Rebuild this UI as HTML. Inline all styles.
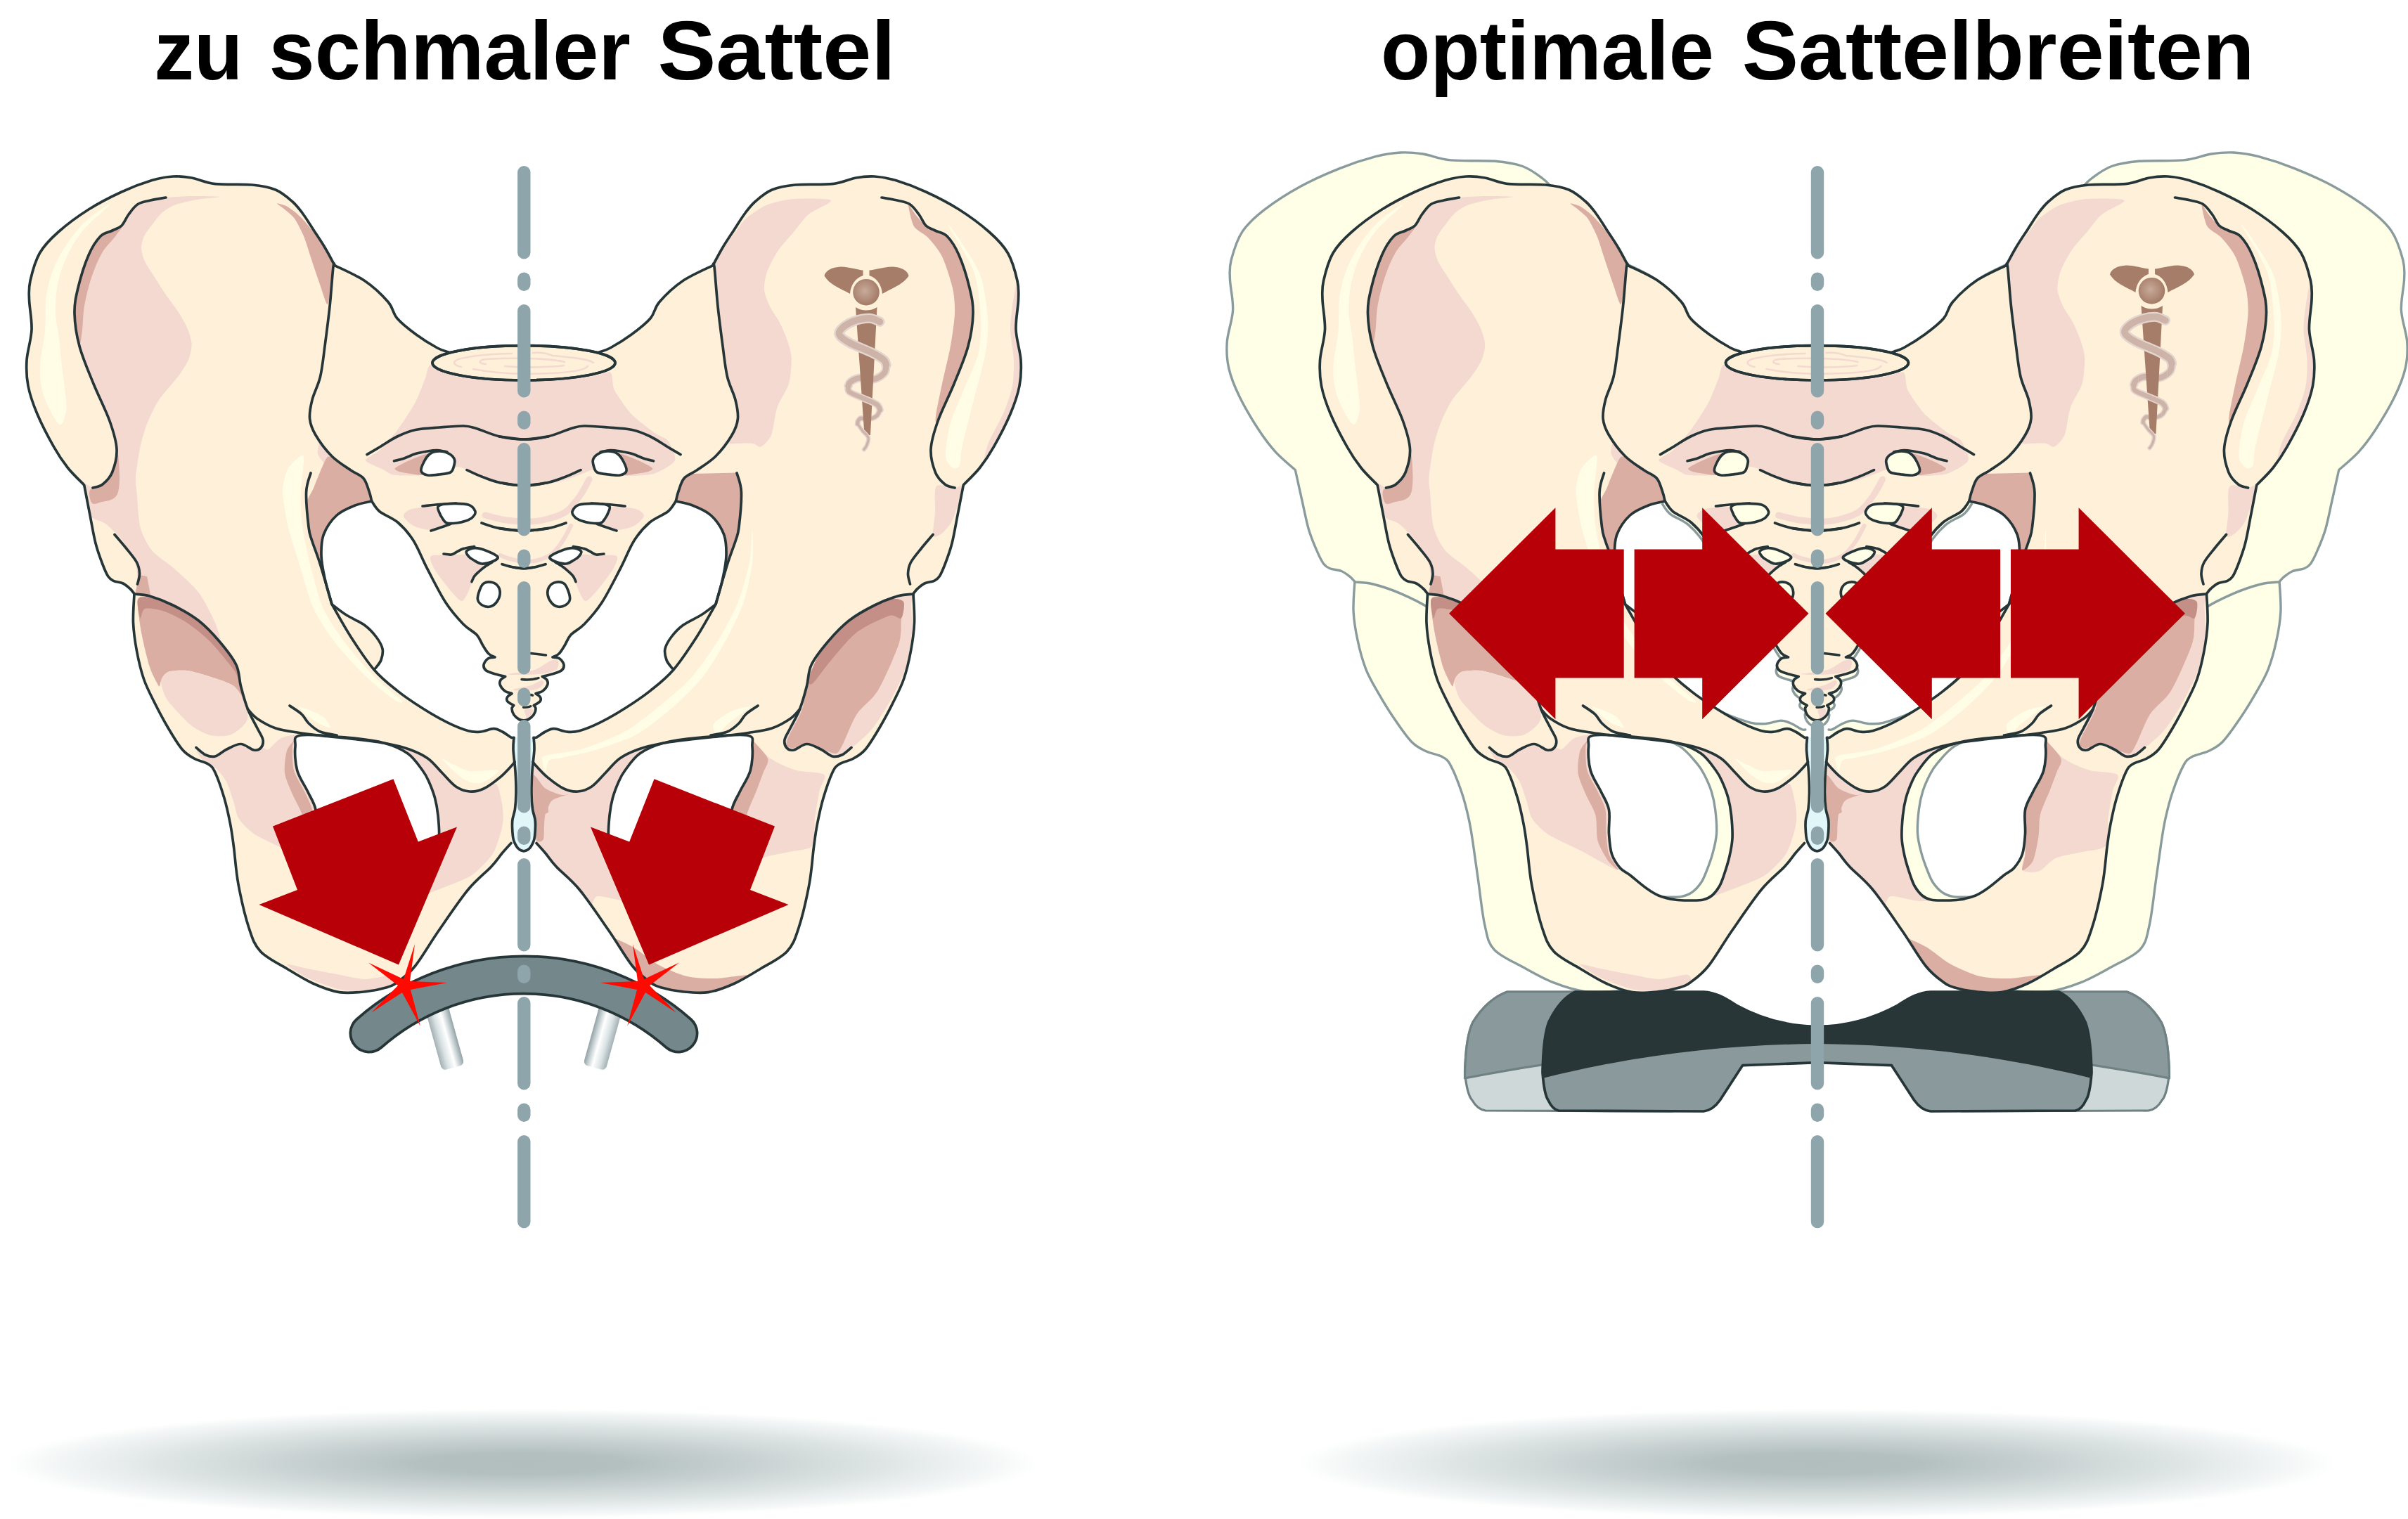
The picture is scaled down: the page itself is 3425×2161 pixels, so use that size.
<!DOCTYPE html>
<html lang="de"><head><meta charset="utf-8"><title>Sattelbreite</title>
<style>html,body{margin:0;padding:0;background:#fff}svg{display:block}text{font-family:"Liberation Sans",sans-serif;font-weight:bold;fill:#000}</style></head><body>
<svg width="3425" height="2161" viewBox="0 0 3425 2161">
<defs>
<radialGradient id="shadow" cx="0.5" cy="0.5" r="0.5"><stop offset="0" stop-color="#b2bebe"/><stop offset="0.2" stop-color="#b4c0c0"/><stop offset="0.45" stop-color="#c9d2d2"/><stop offset="0.7" stop-color="#dfe5e5"/><stop offset="0.9" stop-color="#f3f6f6"/><stop offset="1" stop-color="#ffffff"/></radialGradient>
<linearGradient id="rail" x1="0" y1="0" x2="1" y2="0"><stop offset="0" stop-color="#a3b0b3"/><stop offset="0.3" stop-color="#dbe3e5"/><stop offset="0.6" stop-color="#ffffff"/><stop offset="0.8" stop-color="#c9d3d5"/><stop offset="1" stop-color="#92a2a6"/></linearGradient>
<linearGradient id="railL" gradientUnits="userSpaceOnUse" x1="604" y1="1478" x2="636" y2="1469"><stop offset="0" stop-color="#98a7ab"/><stop offset="0.3" stop-color="#d5dee0"/><stop offset="0.6" stop-color="#ffffff"/><stop offset="0.8" stop-color="#cfd8da"/><stop offset="1" stop-color="#8c9ca0"/></linearGradient>
<linearGradient id="railR" gradientUnits="userSpaceOnUse" x1="842" y1="1469" x2="874" y2="1478"><stop offset="0" stop-color="#98a7ab"/><stop offset="0.3" stop-color="#d5dee0"/><stop offset="0.5" stop-color="#ffffff"/><stop offset="0.8" stop-color="#cfd8da"/><stop offset="1" stop-color="#8c9ca0"/></linearGradient>
<radialGradient id="ball" cx="0.45" cy="0.45" r="0.6"><stop offset="0" stop-color="#c9aa9a"/><stop offset="1" stop-color="#a07762"/></radialGradient>
<linearGradient id="snake" x1="0" y1="0" x2="1" y2="0"><stop offset="0" stop-color="#e3d3cc"/><stop offset="0.5" stop-color="#c9ab9e"/><stop offset="1" stop-color="#dccac2"/></linearGradient>
<path id="hipFill" fill-rule="evenodd" clip-rule="evenodd" d="M476,377.6C473.7,373.3 467.1,360.5 462,352C456.9,343.5 450.8,334.6 445.5,326.4C440.2,318.2 435,309.6 430,303C425,296.4 421.9,292 415.6,286.5C409.3,281 401.4,273.9 392,270C382.6,266.1 373.3,264.4 359,263C344.7,261.6 320.4,263.3 306,261.6C291.6,259.9 282.6,254.8 272.6,253C262.6,251.2 255.4,250.4 246,251C236.6,251.6 228.2,252.9 216,256.6C203.8,260.3 188,266.1 173,273C158,279.9 141,288.5 126,298C111,307.5 94.6,319.7 83,330C71.4,340.3 63.2,348.4 56.5,360C49.8,371.6 45.5,388.5 43,399.5C40.5,410.5 41.2,414.4 41.5,426C41.8,437.6 45.6,454.6 45,469C44.4,483.4 38.8,499.3 38,512.6C37.2,525.9 37.5,536.3 40,549C42.5,561.7 46.9,574.6 53,589C59.1,603.4 69.3,622.9 76.5,635.6C83.7,648.4 89.2,656.4 96.4,665.5C103.6,674.6 115.8,685.9 119.7,690C121.1,697.2 125.3,719.2 128,733C130.7,746.8 133,761.3 136,773C139,784.7 143,795.2 146,803C149,810.8 151.2,816.1 153.8,820C156.4,823.9 157.8,824.6 161.3,826.3C164.8,828 171.1,828.1 175,830C178.9,831.9 182.3,835.1 185,837.5C187.7,839.9 190,843.4 191,844.6C190.8,851.5 188.9,872.4 189.5,886C190.1,899.6 192,912.7 194.5,926C197,939.3 200.3,953.8 204.5,966C208.7,978.2 213.7,987.3 219.5,999C225.3,1010.7 232.8,1024.8 239.4,1036C246,1047.2 252.9,1058.8 259,1066C265.1,1073.2 269.8,1075.5 276,1079C282.2,1082.5 291,1083.7 296,1087C301,1090.3 302.2,1090.9 306,1099C309.8,1107.1 315.4,1123.4 319,1135.6C322.6,1147.8 325.2,1160.4 327.5,1172C329.8,1183.6 330.6,1190.7 332.5,1205C334.4,1219.3 335.4,1238.8 339,1258C342.6,1277.2 348.8,1304.1 354,1320C359.2,1335.9 361.5,1343.7 370.5,1353.4C379.5,1363.1 395.6,1370.4 408,1378C420.4,1385.6 432.6,1393.4 445,1399C457.4,1404.6 470.1,1409.6 482.6,1411.6C495.1,1413.5 508.9,1411.8 520,1410.7C531.1,1409.6 541.4,1407.3 549,1405C556.6,1402.7 558.8,1402.2 565.7,1397C572.7,1391.8 581,1386.2 590.7,1374C600.4,1361.8 611.5,1342 624,1324C636.5,1306 653,1281.2 665.5,1266C678,1250.8 690.6,1241.7 698.7,1233C706.8,1224.3 709.3,1219.6 714,1214C718.7,1208.4 724.8,1201.9 727,1199.5C727.4,1197.8 729.1,1194.7 729.4,1189.4C729.7,1184.2 728.2,1174.4 728.7,1168C729.2,1161.6 731.6,1157.7 732.5,1151C733.4,1144.3 733.9,1136.8 734,1127.8C734.1,1118.8 733.7,1107.3 733,1097C732.3,1086.7 730.3,1074 730,1066C729.7,1058 730.8,1052.1 731,1049.3C730.2,1049.2 729.2,1050.2 726.5,1048.8C723.8,1047.4 718.6,1043 714.5,1041C710.4,1039 707.1,1036.7 702,1036.7C696.9,1036.7 690,1040.5 684,1041C678,1041.5 674,1042 666,1039.8C658,1037.6 647,1033.2 636,1027.7C625,1022.2 611.8,1014.5 600,1007C588.2,999.5 576.3,991.6 565,982.6C553.7,973.6 537.5,957.7 532,952.7C535.1,949 540.3,943.7 542,939C543.7,934.3 545.2,928.5 544,923C542.8,917.5 539.2,911.6 535,906C530.8,900.4 525.9,894.8 518.7,889.5C511.5,884.2 499.8,879.5 492,874.5C484.2,869.5 475.3,862.1 472,859.6C470.3,853.5 464.5,834.6 462,823C459.5,811.4 457.2,800.5 457,790C456.8,779.5 456.8,769.5 460.5,760C464.2,750.5 471.6,739.8 479,733C486.4,726.2 496.7,722.3 505,719C513.3,715.7 524.8,714 528.7,713C528.1,710.7 527,704.4 525,699C523,693.6 521.3,685.5 517,680.5C512.7,675.5 506.5,674.2 499,669C491.5,663.8 480.3,657.3 472,649C463.7,640.7 454.2,627.9 449,619C443.8,610.1 441.4,604 440.6,595.7C439.8,587.4 441.5,579 444,569C446.5,559 452.5,548.7 455.5,536C458.5,523.3 459.8,509.3 462,492.6C464.2,475.9 467,454.8 469,436C471,417.2 472.8,389.3 474,379.6C475.2,369.9 475.7,377.9 476,377.6ZM428,1046C415.1,1048.1 420.9,1053.7 420,1062C419.1,1070.3 419.8,1085.3 422.7,1096C425.6,1106.7 433.2,1116.7 437.6,1126C442,1135.3 447.1,1142 449,1152C450.9,1162 448.3,1175.5 449,1186C449.7,1196.5 450.3,1206.8 453,1215C455.7,1223.2 460.7,1230 465,1235C469.3,1240 473.2,1240.5 479,1245C484.8,1249.5 493.2,1257.2 500,1262C506.8,1266.8 512.3,1271 519.5,1274C526.7,1277 535.2,1278.8 543,1280C550.8,1281.2 559.3,1281 566,1281C572.7,1281 578.1,1281.2 583,1280C587.9,1278.8 591.7,1277.2 595.5,1274C599.3,1270.8 603.2,1265.8 606,1261C608.8,1256.2 610.2,1251.8 612.5,1245C614.8,1238.2 618,1228.7 620,1220C622,1211.3 624,1203 624.5,1193C625,1183 624,1169.7 623,1160C622,1150.3 620.7,1143 618.5,1135C616.3,1127 612.9,1118.5 610,1112C607.1,1105.5 606,1102.7 601,1096C596,1089.3 589.2,1078.5 580,1072C570.8,1065.5 559.8,1060.7 546,1057C532.2,1053.3 517.2,1051.4 497.5,1049.6C477.8,1047.8 440.9,1043.9 428,1046Z"/>
<path id="sacFill" fill-rule="evenodd" clip-rule="evenodd" d="M476,377.6C483.1,381.2 506,390.9 518.7,399.5C531.4,408.1 544.3,420.6 552,429.5C559.7,438.4 558.3,445.2 565,453C571.7,460.8 582.5,469 592,476C601.5,483 614.3,490.8 622,495C629.7,499.2 632.5,500.2 638,501C643.5,501.8 652.2,500.2 655,500L746,500L746,1025L745.5,1025C744.3,1024.8 740.9,1024.8 738.5,1023.5C736.1,1022.2 732.8,1019.6 731,1017C729.2,1014.4 728,1010.2 728,1008C728,1005.8 730.2,1004.3 730.7,1003.6C729.2,1002.6 723.2,999.6 721.7,997.6C720.2,995.6 720.7,993.4 721.7,991.6C722.8,989.8 727,987.5 728,986.7C726.3,986.1 720.8,985 718,983C715.2,981 712.4,977.3 711.4,974.7C710.4,972.1 710.8,969.5 712,967.5C713.2,965.5 717.6,963.4 718.7,962.6C716.4,962 709.3,960.4 704.8,959C700.3,957.6 694.4,956.2 691.6,954C688.8,951.8 687.6,948.6 688,945.8C688.4,943 691.3,938.8 694,937C696.7,935.2 702.3,935.3 704,935C702.5,934.2 697.9,932.8 695,930C692.1,927.2 689.5,922.5 686.7,918C683.9,913.5 682.6,908 678,903C673.4,898 666.4,895.7 659,888C651.6,880.3 642.3,870.1 633.8,857C625.3,843.9 615.7,824.3 608,809.6C600.3,794.9 594.8,779.7 587.7,768.6C580.6,757.5 573.6,749.8 565.6,743C557.6,736.2 546.1,732.7 540,727.7C533.9,722.7 530.6,715.5 528.7,713C528.1,710.7 527,704.4 525,699C523,693.6 521.3,685.5 517,680.5C512.7,675.5 506.5,674.2 499,669C491.5,663.8 480.3,657.3 472,649C463.7,640.7 454.2,627.9 449,619C443.8,610.1 441.4,604 440.6,595.7C439.8,587.4 441.5,579 444,569C446.5,559 452.5,548.7 455.5,536C458.5,523.3 459.8,509.3 462,492.6C464.2,475.9 467,454.8 469,436C471,417.2 472.8,389.3 474,379.6C475.2,369.9 475.7,377.9 476,377.6ZM599,670C598.2,666.8 600.9,661.1 603,657C605.1,652.9 607.9,648.1 611.6,645.6C615.3,643.1 620.4,642 625,642C629.6,642 635.4,643.6 639,645.6C642.6,647.6 645.5,650.8 646.5,654C647.5,657.2 646,662 645,665C644,668 643.9,670.3 640.6,672C637.3,673.7 630.4,674.3 625,675C619.6,675.7 612.3,676.8 608,676C603.7,675.2 599.8,673.2 599,670ZM623.5,720C626,717.9 632.9,716.8 640,716.5C647.1,716.2 660,716.1 666,718C672,719.9 675,724.7 676,727.7C677,730.7 674.2,733.8 672,736C669.8,738.2 666.4,739.7 662.7,741C659,742.3 654.5,743.5 650,744C645.5,744.5 639,745.2 635.5,744C632,742.8 630.8,739.4 629,737C627.2,734.6 625.9,732.2 625,729.4C624.1,726.6 621,722.1 623.5,720ZM663.6,784C665.3,782.1 671.1,779.7 676,779.7C680.9,779.7 687.7,781.9 693,784C698.3,786.1 706.8,790 708,792.5C709.2,795 703.8,797.4 700,799C696.2,800.6 689.3,802.3 685,802C680.7,801.7 677.2,798.9 674,797C670.8,795.1 667.7,793 666,790.8C664.3,788.6 661.9,785.9 663.6,784ZM688,830C691,828.1 696.5,827.7 700,828.5C703.5,829.3 707.2,832.1 709,835C710.8,837.9 711.5,842.3 711,846C710.5,849.7 708.3,854.2 706,857C703.7,859.8 700.3,862.3 697,863C693.7,863.7 688.9,862.7 686,861C683.1,859.3 680.2,856.5 679.5,853C678.8,849.5 680.6,843.8 682,840C683.4,836.2 685,831.9 688,830Z"/>
<path id="sacSolid" d="M476,377.6C483.1,381.2 506,390.9 518.7,399.5C531.4,408.1 544.3,420.6 552,429.5C559.7,438.4 558.3,445.2 565,453C571.7,460.8 582.5,469 592,476C601.5,483 614.3,490.8 622,495C629.7,499.2 632.5,500.2 638,501C643.5,501.8 652.2,500.2 655,500L746,500L746,1025L745.5,1025C744.3,1024.8 740.9,1024.8 738.5,1023.5C736.1,1022.2 732.8,1019.6 731,1017C729.2,1014.4 728,1010.2 728,1008C728,1005.8 730.2,1004.3 730.7,1003.6C729.2,1002.6 723.2,999.6 721.7,997.6C720.2,995.6 720.7,993.4 721.7,991.6C722.8,989.8 727,987.5 728,986.7C726.3,986.1 720.8,985 718,983C715.2,981 712.4,977.3 711.4,974.7C710.4,972.1 710.8,969.5 712,967.5C713.2,965.5 717.6,963.4 718.7,962.6C716.4,962 709.3,960.4 704.8,959C700.3,957.6 694.4,956.2 691.6,954C688.8,951.8 687.6,948.6 688,945.8C688.4,943 691.3,938.8 694,937C696.7,935.2 702.3,935.3 704,935C702.5,934.2 697.9,932.8 695,930C692.1,927.2 689.5,922.5 686.7,918C683.9,913.5 682.6,908 678,903C673.4,898 666.4,895.7 659,888C651.6,880.3 642.3,870.1 633.8,857C625.3,843.9 615.7,824.3 608,809.6C600.3,794.9 594.8,779.7 587.7,768.6C580.6,757.5 573.6,749.8 565.6,743C557.6,736.2 546.1,732.7 540,727.7C533.9,722.7 530.6,715.5 528.7,713C528.1,710.7 527,704.4 525,699C523,693.6 521.3,685.5 517,680.5C512.7,675.5 506.5,674.2 499,669C491.5,663.8 480.3,657.3 472,649C463.7,640.7 454.2,627.9 449,619C443.8,610.1 441.4,604 440.6,595.7C439.8,587.4 441.5,579 444,569C446.5,559 452.5,548.7 455.5,536C458.5,523.3 459.8,509.3 462,492.6C464.2,475.9 467,454.8 469,436C471,417.2 472.8,389.3 474,379.6C475.2,369.9 475.7,377.9 476,377.6Z"/>
<g id="hipLines" fill="none" stroke-linecap="round" stroke-linejoin="round">
<path d="M476,377.6C473.7,373.3 467.1,360.5 462,352C456.9,343.5 450.8,334.6 445.5,326.4C440.2,318.2 435,309.6 430,303C425,296.4 421.9,292 415.6,286.5C409.3,281 401.4,273.9 392,270C382.6,266.1 373.3,264.4 359,263C344.7,261.6 320.4,263.3 306,261.6C291.6,259.9 282.6,254.8 272.6,253C262.6,251.2 255.4,250.4 246,251C236.6,251.6 228.2,252.9 216,256.6C203.8,260.3 188,266.1 173,273C158,279.9 141,288.5 126,298C111,307.5 94.6,319.7 83,330C71.4,340.3 63.2,348.4 56.5,360C49.8,371.6 45.5,388.5 43,399.5C40.5,410.5 41.2,414.4 41.5,426C41.8,437.6 45.6,454.6 45,469C44.4,483.4 38.8,499.3 38,512.6C37.2,525.9 37.5,536.3 40,549C42.5,561.7 46.9,574.6 53,589C59.1,603.4 69.3,622.9 76.5,635.6C83.7,648.4 89.2,656.4 96.4,665.5C103.6,674.6 115.8,685.9 119.7,690C121.1,697.2 125.3,719.2 128,733C130.7,746.8 133,761.3 136,773C139,784.7 143,795.2 146,803C149,810.8 151.2,816.1 153.8,820C156.4,823.9 157.8,824.6 161.3,826.3C164.8,828 171.1,828.1 175,830C178.9,831.9 182.3,835.1 185,837.5C187.7,839.9 190,843.4 191,844.6C190.8,851.5 188.9,872.4 189.5,886C190.1,899.6 192,912.7 194.5,926C197,939.3 200.3,953.8 204.5,966C208.7,978.2 213.7,987.3 219.5,999C225.3,1010.7 232.8,1024.8 239.4,1036C246,1047.2 252.9,1058.8 259,1066C265.1,1073.2 269.8,1075.5 276,1079C282.2,1082.5 291,1083.7 296,1087C301,1090.3 302.2,1090.9 306,1099C309.8,1107.1 315.4,1123.4 319,1135.6C322.6,1147.8 325.2,1160.4 327.5,1172C329.8,1183.6 330.6,1190.7 332.5,1205C334.4,1219.3 335.4,1238.8 339,1258C342.6,1277.2 348.8,1304.1 354,1320C359.2,1335.9 361.5,1343.7 370.5,1353.4C379.5,1363.1 395.6,1370.4 408,1378C420.4,1385.6 432.6,1393.4 445,1399C457.4,1404.6 470.1,1409.6 482.6,1411.6C495.1,1413.5 508.9,1411.8 520,1410.7C531.1,1409.6 541.4,1407.3 549,1405C556.6,1402.7 558.8,1402.2 565.7,1397C572.7,1391.8 581,1386.2 590.7,1374C600.4,1361.8 611.5,1342 624,1324C636.5,1306 653,1281.2 665.5,1266C678,1250.8 690.6,1241.7 698.7,1233C706.8,1224.3 709.3,1219.6 714,1214C718.7,1208.4 724.8,1201.9 727,1199.5"/>
<path d="M731,1049.3C730.2,1049.2 729.2,1050.2 726.5,1048.8C723.8,1047.4 718.6,1043 714.5,1041C710.4,1039 707.1,1036.7 702,1036.7C696.9,1036.7 690,1040.5 684,1041C678,1041.5 674,1042 666,1039.8C658,1037.6 647,1033.2 636,1027.7C625,1022.2 611.8,1014.5 600,1007C588.2,999.5 576.3,991.6 565,982.6C553.7,973.6 543,965.5 532,952.7C521,939.9 509,921.5 499,906C489,890.5 476.5,867.3 472,859.6C469.2,850.2 460.2,817.9 455.5,803C450.8,788.1 446.8,778.8 444,770C441.2,761.2 440.4,761.7 439,750C437.6,738.3 435.1,712.8 435.6,700C436.1,687.2 440.9,677.5 442,673"/>
<path d="M472,859.6C475.3,862.1 484.2,869.5 492,874.5C499.8,879.5 511.5,884.2 518.7,889.5C525.9,894.8 530.8,900.4 535,906C539.2,911.6 542.8,917.5 544,923C545.2,928.5 543.7,934.3 542,939C540.3,943.7 535.1,949 533.7,951"/>
<path d="M472,859.6C470.3,853.5 464.5,834.6 462,823C459.5,811.4 457.2,800.5 457,790C456.8,779.5 456.8,769.5 460.5,760C464.2,750.5 471.6,739.8 479,733C486.4,726.2 496.7,722.3 505,719C513.3,715.7 524.8,714 528.7,713"/>
<path d="M236,281C232.3,281.7 220.7,283.4 214,285C207.3,286.6 201.2,287.2 196,290.5C190.8,293.8 186.8,299.9 183,305C179.2,310.1 176.8,317.2 173,321C169.2,324.8 165,325.5 160,328C155,330.5 148.7,330.2 143,336C137.3,341.8 131.3,350.8 126,363C120.7,375.2 114.3,395.7 111,409.5C107.7,423.3 105.7,432.1 106,446C106.3,459.9 108.5,475.9 113,492.6C117.5,509.3 125.8,528.3 133,546C140.2,563.7 150.5,583.5 156,599C161.5,614.5 165.4,626.8 166,639C166.6,651.2 162.9,663.7 159.6,672C156.3,680.3 150.6,685.3 146,689C141.4,692.7 134.3,693.2 132,694"/>
<path d="M163,760.5C165.8,763.8 174.2,773.4 179.5,780C184.8,786.6 191.3,794 194.5,800C197.7,806 198.3,810.8 198.5,816C198.7,821.2 196,828.5 195.5,831"/>
<path d="M191,845C194.7,845.5 203.8,845.3 213,848C222.2,850.7 234.4,855.2 246,861C257.6,866.8 271.5,874.3 282.6,883C293.7,891.7 303.6,902.5 312.5,913C321.4,923.5 331,935.5 336,946C341,956.5 339.8,965.5 342.5,976C345.2,986.5 348.6,999 352.5,1009C356.4,1019 362.4,1028.8 366,1036C369.6,1043.2 373.2,1047.8 374,1052.5C374.8,1057.2 373.2,1061.6 371,1064C368.8,1066.4 365.8,1067.9 361,1067C356.2,1066.1 348.9,1058.7 342.5,1058.5C336.1,1058.3 328.6,1063.1 322.5,1066C316.4,1068.9 311,1074.7 306,1076C301,1077.3 297.1,1076.1 292.6,1074C288.1,1071.9 281.3,1065.2 279,1063.5"/>
<path d="M352.5,1009C354.8,1011.2 359.4,1018 366,1022.5C372.6,1027 382.1,1032.7 392,1036C401.9,1039.3 413.4,1040.6 425.6,1042.5C437.9,1044.4 453.3,1046.1 465.5,1047.5C477.7,1048.9 485.1,1049.3 499,1051C512.9,1052.7 534.8,1055 548.6,1057.5C562.4,1060 572,1062.4 582,1066C592,1069.6 600.8,1073.5 608.5,1079C616.2,1084.5 621.8,1092.3 628.4,1099C635,1105.7 641.8,1114.5 648.4,1119C655,1123.5 661.4,1125.5 668,1126C674.6,1126.5 680.8,1125.4 688,1122C695.2,1118.6 704.8,1111.1 711.5,1105.6C718.2,1100.1 724.6,1092.6 728,1089C731.4,1085.4 731.3,1084.8 732,1084"/>
<path d="M412,1004C414.8,1006 424.5,1011.8 429,1016C433.5,1020.2 434.6,1024.8 439,1029C443.4,1033.2 448.8,1038.2 455.5,1041C462.2,1043.8 475.1,1045.2 479,1046"/>
<path d="M428,1046C415.1,1048.1 420.9,1053.7 420,1062C419.1,1070.3 419.8,1085.3 422.7,1096C425.6,1106.7 433.2,1116.7 437.6,1126C442,1135.3 447.1,1142 449,1152C450.9,1162 448.3,1175.5 449,1186C449.7,1196.5 450.3,1206.8 453,1215C455.7,1223.2 460.7,1230 465,1235C469.3,1240 473.2,1240.5 479,1245C484.8,1249.5 493.2,1257.2 500,1262C506.8,1266.8 512.3,1271 519.5,1274C526.7,1277 535.2,1278.8 543,1280C550.8,1281.2 559.3,1281 566,1281C572.7,1281 578.1,1281.2 583,1280C587.9,1278.8 591.7,1277.2 595.5,1274C599.3,1270.8 603.2,1265.8 606,1261C608.8,1256.2 610.2,1251.8 612.5,1245C614.8,1238.2 618,1228.7 620,1220C622,1211.3 624,1203 624.5,1193C625,1183 624,1169.7 623,1160C622,1150.3 620.7,1143 618.5,1135C616.3,1127 612.9,1118.5 610,1112C607.1,1105.5 606,1102.7 601,1096C596,1089.3 589.2,1078.5 580,1072C570.8,1065.5 559.8,1060.7 546,1057C532.2,1053.3 517.2,1051.4 497.5,1049.6C477.8,1047.8 440.9,1043.9 428,1046Z"/>
</g>
<g id="sacLines" fill="none" stroke-linecap="round" stroke-linejoin="round">
<path d="M476,377.6C483.1,381.2 506,390.9 518.7,399.5C531.4,408.1 544.3,420.6 552,429.5C559.7,438.4 558.3,445.2 565,453C571.7,460.8 582.5,469 592,476C601.5,483 614.3,490.8 622,495C629.7,499.2 635.3,500 638,501"/>
<path d="M476,377.6C475.7,377.9 475.2,369.9 474,379.6C472.8,389.3 471,417.2 469,436C467,454.8 464.2,475.9 462,492.6C459.8,509.3 458.5,523.3 455.5,536C452.5,548.7 446.5,559 444,569C441.5,579 439.8,587.4 440.6,595.7C441.4,604 443.8,610.1 449,619C454.2,627.9 463.7,640.7 472,649C480.3,657.3 491.5,663.8 499,669C506.5,674.2 512.7,675.5 517,680.5C521.3,685.5 523,693.6 525,699C527,704.4 528.1,710.7 528.7,713C530.6,715.5 533.9,722.7 540,727.7C546.1,732.7 557.6,736.2 565.6,743C573.6,749.8 580.6,757.5 587.7,768.6C594.8,779.7 600.3,794.9 608,809.6C615.7,824.3 625.3,843.9 633.8,857C642.3,870.1 651.6,880.3 659,888C666.4,895.7 673.4,898 678,903C682.6,908 683.9,913.5 686.7,918C689.5,922.5 692.1,927.2 695,930C697.9,932.8 702.5,934.2 704,935C702.3,935.3 696.7,935.2 694,937C691.3,938.8 688.4,943 688,945.8C687.6,948.6 688.8,951.8 691.6,954C694.4,956.2 700.3,957.6 704.8,959C709.3,960.4 716.4,962 718.7,962.6C717.6,963.4 713.2,965.5 712,967.5C710.8,969.5 710.4,972.1 711.4,974.7C712.4,977.3 715.2,981 718,983C720.8,985 726.3,986.1 728,986.7C727,987.5 722.8,989.8 721.7,991.6C720.7,993.4 720.2,995.6 721.7,997.6C723.2,999.6 729.2,1002.6 730.7,1003.6C730.2,1004.3 728,1005.8 728,1008C728,1010.2 729.2,1014.4 731,1017C732.8,1019.6 736.1,1022.2 738.5,1023.5C740.9,1024.8 744.3,1024.8 745.5,1025"/>
<path d="M522,646.6C525,644.8 532.8,640.3 540,636C547.2,631.7 556.5,625.1 565,621C573.5,616.9 581,613.7 591,611.5C601,609.3 613.7,608.9 625,608C636.3,607.1 650.5,605.8 659,606C667.5,606.2 667.4,606.5 676,609C684.6,611.5 699,618.3 710.5,621C722,623.7 733.5,625 745,625C756.5,625 773.8,621.7 779.5,621"/>
<path d="M664,668.6C667.5,670.2 677.2,675 685,678C692.8,681 700.5,684.4 710.5,686.5C720.5,688.6 733.5,690.8 745,690.8C756.5,690.8 773.8,687.2 779.5,686.5"/>
<path d="M685,744C689.2,745.3 700.5,749.8 710.5,751.6C720.5,753.4 733.5,755 745,755C756.5,755 773.8,752.2 779.5,751.6"/>
<path d="M714,802.7C716.7,803.4 724.8,806 730,807C735.2,808 740,808.7 745,808.7C750,808.7 757.5,807.3 760,807"/>
<path d="M560.5,655.8C562.9,655.2 569.9,653.7 575,652C580.1,650.3 585.5,647.3 591,645.6C596.5,643.9 602.8,642.9 608,642C613.2,641.1 617.3,640.3 622,640.5C626.7,640.7 633.7,642.6 636,643"/>
<path d="M601,720C605,719.6 617,718.2 625,717.5C633,716.8 645,716.2 649,716"/>
<path d="M640.6,745.6C638.5,746.3 632.6,748.4 628,750C623.4,751.6 615.5,754.2 613,755"/>
<path d="M631,788C632.8,788.2 638.8,789.5 642,789C645.2,788.5 647.2,786.4 650,785C652.8,783.6 654.9,781.9 659,780.6C663.1,779.4 672.1,778 674.7,777.5"/>
<path d="M700,800C698.3,801 693.1,803.8 690,806C686.9,808.2 684,810.7 681.5,813C679,815.3 676.5,817.4 674.7,819.8C673,822.2 671.6,826.2 671,827.5"/>
<path d="M599,670C598.2,666.8 600.9,661.1 603,657C605.1,652.9 607.9,648.1 611.6,645.6C615.3,643.1 620.4,642 625,642C629.6,642 635.4,643.6 639,645.6C642.6,647.6 645.5,650.8 646.5,654C647.5,657.2 646,662 645,665C644,668 643.9,670.3 640.6,672C637.3,673.7 630.4,674.3 625,675C619.6,675.7 612.3,676.8 608,676C603.7,675.2 599.8,673.2 599,670Z"/>
<path d="M623.5,720C626,717.9 632.9,716.8 640,716.5C647.1,716.2 660,716.1 666,718C672,719.9 675,724.7 676,727.7C677,730.7 674.2,733.8 672,736C669.8,738.2 666.4,739.7 662.7,741C659,742.3 654.5,743.5 650,744C645.5,744.5 639,745.2 635.5,744C632,742.8 630.8,739.4 629,737C627.2,734.6 625.9,732.2 625,729.4C624.1,726.6 621,722.1 623.5,720Z"/>
<path d="M663.6,784C665.3,782.1 671.1,779.7 676,779.7C680.9,779.7 687.7,781.9 693,784C698.3,786.1 706.8,790 708,792.5C709.2,795 703.8,797.4 700,799C696.2,800.6 689.3,802.3 685,802C680.7,801.7 677.2,798.9 674,797C670.8,795.1 667.7,793 666,790.8C664.3,788.6 661.9,785.9 663.6,784Z"/>
<path d="M688,830C691,828.1 696.5,827.7 700,828.5C703.5,829.3 707.2,832.1 709,835C710.8,837.9 711.5,842.3 711,846C710.5,849.7 708.3,854.2 706,857C703.7,859.8 700.3,862.3 697,863C693.7,863.7 688.9,862.7 686,861C683.1,859.3 680.2,856.5 679.5,853C678.8,849.5 680.6,843.8 682,840C683.4,836.2 685,831.9 688,830Z"/>
</g>
<clipPath id="clipHip"><use href="#hipFill"/></clipPath>
<clipPath id="clipSac"><use href="#sacFill"/><use href="#sacFill" transform="translate(1490,0) scale(-1,1)"/></clipPath>
<g id="shadeBoth">
</g>
<path id="innerL" fill="#dbaea3" d="M466,650C468.9,648 476.1,652.8 480,655C483.9,657.2 494.7,666 499,669C503.3,672 514,677 517,680.5C520,684 523.6,695.2 525,699C526.4,702.8 531,710.7 528.7,713C526.4,715.3 510.8,716.7 505,719C499.2,721.3 484.2,728.2 479,733C473.8,737.8 463.1,753.4 460.5,760C457.9,766.6 456.8,782.6 457,790C457.2,797.4 460.2,814.9 462,823C463.8,831.1 472.8,861.9 472,859.6C471.2,857.3 458.8,813.5 455.5,803C452.2,792.5 445.9,776.2 444,770C442.1,763.8 439.9,756.3 439,750C438.1,743.7 435.2,722.4 436,716C436.8,709.6 443.3,700.6 445.5,695.5C447.7,690.4 452.6,677.3 455,672C457.4,666.7 463.1,652 466,650Z"/>
<path id="innerLp" fill="#f3d9cf" d="M456,628C458.3,628.5 467,644.2 472,649C477,653.8 498.1,666.8 499,669C499.9,671.2 484.3,669 480,668C475.7,667 465.3,662.7 462,660C458.7,657.3 452.7,648.7 452,645C451.3,641.3 453.7,627.5 456,628Z"/>
<path id="innerR" fill="#dbaea3" d="M441,672.5L506,674C507.3,674.8 514.8,677.6 517,680.5C519.2,683.4 523.6,695.2 525,699C526.4,702.8 531,710.7 528.7,713C526.4,715.3 510.8,716.7 505,719C499.2,721.3 484.2,728.2 479,733C473.8,737.8 463.1,753.4 460.5,760C457.9,766.6 456.8,782.6 457,790C457.2,797.4 460.2,814.9 462,823C463.8,831.1 472.8,861.9 472,859.6C471.2,857.3 458.8,813.5 455.5,803C452.2,792.5 445.9,776.2 444,770C442.1,763.8 440,758.2 439,750C438,741.8 435.4,709 435.6,700C435.8,691 440.4,675.7 441,672.5Z"/>
<g id="shadeL">
<path fill="#f3d9cf" d="M236,281C227.9,281.8 219.3,283.7 214,285C208.7,286.3 200.1,287.8 196,290.5C191.9,293.2 186.1,300.9 183,305C179.9,309.1 176.1,317.9 173,321C169.9,324.1 164,326 160,328C156,330 147.5,331.3 143,336C138.5,340.7 130.3,353.2 126,363C121.7,372.8 113.7,398.4 111,409.5C108.3,420.6 105.7,434.9 106,446C106.3,457.1 109.4,479.3 113,492.6C116.6,505.9 127.3,531.8 133,546C138.7,560.2 151.6,586.6 156,599C160.4,611.4 165.5,629.3 166,639C166.5,648.7 162.3,665.3 159.6,672C156.9,678.7 149.7,686.1 146,689C142.3,691.9 135.5,693.9 132,694C128.5,694.1 120.5,684.8 120,690C119.5,695.2 124,725.7 128,733C132,740.3 143.7,740.1 150,745C156.3,749.9 169.4,762.7 175,770C180.6,777.3 189.2,791.9 192,800C194.8,808.1 196.1,825 196,831C195.9,837 188.7,842.7 191,845C193.3,847.3 205.7,845.9 213,848C220.3,850.1 236.7,856.3 246,861C255.3,865.7 273.7,876.1 282.6,883C291.5,889.9 309.4,912.6 312.5,913C315.6,913.4 310,895.3 306,886C302,876.7 290.2,853.1 282.6,843C275,832.9 257.9,818 249,810C240.1,802 222.6,791 216,783C209.4,775 202.4,761.1 199.5,750C196.6,738.9 195.4,709.5 194.5,700C193.6,690.5 192.3,687.6 193,679C193.7,670.4 197.3,645.9 199.5,635.6C201.7,625.3 206,610.9 209.5,602C213,593.1 220.2,577.8 226,569C231.8,560.2 247.4,543.6 253,536C258.6,528.4 265.4,518.3 268,512C270.6,505.7 272.9,495.1 272.6,489C272.3,482.9 268.6,472.1 266,466C263.4,459.9 257.1,449.4 253,443C248.9,436.6 239.5,424.7 235,418C230.5,411.3 222.9,399.1 219,393C215.1,386.9 208.4,377.3 206,372C203.6,366.7 201.1,357.8 201,353C200.9,348.2 203,340.4 205,336C207,331.6 212.7,324.4 216,320C219.3,315.6 225.6,306.8 230,303C234.4,299.2 242.3,294 249,291.5C255.7,289 271.5,285.5 280,284C288.5,282.5 313.2,280.7 312.5,280C311.8,279.3 285.2,278.9 275,279C264.8,279.1 244.1,280.2 236,281Z"/>
<path fill="#dbaea3" d="M173,321C169.3,321.2 150.8,329 143,336C135.2,343 131.3,350.8 126,363C120.7,375.2 114.3,395.7 111,409.5C107.7,423.3 106.2,434.2 106,446C105.8,457.8 108.8,472.2 110,480C111.2,487.8 111.8,494.3 113,492.6C114.2,490.9 115.8,479.6 117,470C118.2,460.4 117.8,447.5 120,435C122.2,422.5 125.8,407.5 130,395C134.2,382.5 139.2,370 145,360C150.8,350 160.3,341.5 165,335C169.7,328.5 176.7,320.8 173,321Z"/>
<path fill="#dbaea3" d="M128,697C130.5,692.8 140.7,694.7 146,691C151.3,687.3 156.5,682.7 160,675C163.5,667.3 165.3,645 167,645C168.7,645 169.8,665.8 170,675C170.2,684.2 169.7,694.2 168,700C166.3,705.8 163.8,707.7 160,710C156.2,712.3 149.8,713 145,714C140.2,715 133.8,718.8 131,716C128.2,713.2 125.5,701.2 128,697Z"/>
<path fill="#fffde6" d="M156,291C157.2,288.3 134.3,303.8 125,312C115.7,320.2 107.8,329 100,340C92.2,351 83.7,364.7 78,378C72.3,391.3 68.3,404.7 66,420C63.7,435.3 65.5,453.3 64,470C62.5,486.7 57.7,505.8 57,520C56.3,534.2 57.5,544.2 60,555C62.5,565.8 67.7,576.8 72,585C76.3,593.2 82.3,604 86,604C89.7,604 92.8,592.3 94,585C95.2,577.7 94,570.8 93,560C92,549.2 89.5,533.3 88,520C86.5,506.7 85.5,492.5 84,480C82.5,467.5 79.3,457.5 79,445C78.7,432.5 79.3,418.3 82,405C84.7,391.7 89,377.8 95,365C101,352.2 107.8,340.3 118,328C128.2,315.7 154.8,293.7 156,291Z"/>
<path fill="#dbaea3" d="M394,289.5C394.3,288.8 403.5,291.3 407,293C410.5,294.7 416.1,298.7 420,302C423.9,305.3 430.4,311.3 436,318C441.6,324.7 456.7,344.1 462,352C467.3,359.9 474.7,371.2 476,377.6C477.3,384 473.3,392.6 472,400C470.7,407.4 468.2,432.2 466,433C463.8,433.8 458.7,414.9 455.5,406C452.3,397.1 445.1,375.3 442,366C438.9,356.7 435.1,343.3 432,336C428.9,328.7 422.6,316.1 419,311C415.4,305.9 408.3,300.9 405,298C401.7,295.1 393.7,290.2 394,289.5Z"/>
<path fill="#dbaea3" d="M196.5,818L209,820L212,835L214,847L192.5,847L194.5,834Z"/>
<path fill="#dbaea3" d="M196,853C197.6,846.4 206.3,848.8 213,850C219.7,851.2 236.7,857.5 246,862C255.3,866.5 273.7,877.1 282.6,884C291.5,890.9 305.4,905.6 312.5,914C319.6,922.4 332,938.6 336,947C340,955.4 340.9,970.6 342.5,977C344.1,983.4 347.5,991.9 348,995C348.5,998.1 348.1,1002.5 346,1000C343.9,997.5 338.8,981 332.5,976C326.2,971 307.9,965.6 299,962.7C290.1,959.8 274,954.9 266,954C258,953.1 243.9,954 239,956C234.1,958 230.7,966.3 229,969C227.3,971.7 228.1,978.7 226,976C223.9,973.3 216.3,959.2 213,949C209.7,938.8 203.3,912.3 201,899.5C198.7,886.7 194.4,859.6 196,853Z"/>
<path fill="#c38f86" d="M196,853C197.8,849.1 206.3,848.8 213,850C219.7,851.2 236.7,857.5 246,862C255.3,866.5 273.7,877.1 282.6,884C291.5,890.9 305.4,905.6 312.5,914C319.6,922.4 332.2,939.5 336,947C339.8,954.5 341.5,969.2 341,970C340.5,970.8 338.1,960.3 332.5,952.7C326.9,945.1 307.9,921.9 299,913C290.1,904.1 274.8,891.8 266,886C257.2,880.2 241,872.3 233,869.6C225,866.9 210.5,864.7 206,866C201.5,867.3 200.8,881.3 199.5,879.6C198.2,877.9 194.2,856.9 196,853Z"/>
<path fill="#f3d9cf" d="M229,969C229.4,964.1 234.1,958 239,956C243.9,954 258,953.1 266,954C274,954.9 290.1,959.8 299,962.7C307.9,965.6 326.2,971.7 332.5,976C338.8,980.3 343.3,989.3 346,995C348.7,1000.7 352.5,1014 352.5,1019C352.5,1024 349.5,1028.9 346,1032.5C342.5,1036.1 332.3,1044.2 326,1046C319.7,1047.8 306.1,1047.8 299,1046C291.9,1044.2 279.3,1037.4 272.6,1032.5C265.9,1027.6 253.9,1014.3 249,1009C244.1,1003.7 238.7,997.9 236,992.6C233.3,987.3 228.6,973.9 229,969Z"/>
<path fill="#f3d9cf" d="M279,1066C279.3,1064.9 289,1074.4 292.6,1076C296.2,1077.6 302,1079.1 306,1078C310,1076.9 317.6,1070.3 322.5,1068C327.4,1065.7 337.4,1060.9 342.5,1061C347.6,1061.1 356.8,1068.6 361,1069C365.2,1069.4 371.2,1064.4 374,1064C376.8,1063.6 378.5,1067.9 382,1066C385.5,1064.1 394.3,1052.7 400,1050C405.7,1047.3 422.3,1044.4 425,1046C427.7,1047.6 420.3,1055.3 420,1062C419.7,1068.7 420.4,1087.5 422.7,1096C425,1104.5 434.1,1118.5 437.6,1126C441.1,1133.5 447.5,1144 449,1152C450.5,1160 448.5,1177.6 449,1186C449.5,1194.4 451.3,1208.1 453,1215C454.7,1221.9 467.8,1238.6 462,1238C456.2,1237.4 422.8,1217.3 409.5,1210.5C396.2,1203.7 371.8,1193.1 362.5,1187C353.2,1180.9 344.1,1171.3 340,1165C335.9,1158.7 334.4,1147.1 332,1140C329.6,1132.9 325.5,1118.4 322,1112C318.5,1105.6 310.3,1095.7 306,1092C301.7,1088.3 293.6,1087.5 290,1084C286.4,1080.5 278.7,1067.1 279,1066Z"/>
<path fill="#dbaea3" d="M420,1052C421.1,1051.2 416.3,1056.1 416,1062C415.7,1067.9 415.7,1087.5 418,1096C420.3,1104.5 429.5,1118.5 433,1126C436.5,1133.5 442.4,1144 444,1152C445.6,1160 444.3,1177.6 445,1186C445.7,1194.4 446.7,1208.2 449,1215C451.3,1221.8 462.1,1235.7 462,1237C461.9,1238.3 451.9,1230.5 448,1225C444.1,1219.5 435.4,1204.7 433,1196C430.6,1187.3 432.3,1168.8 430,1160C427.7,1151.2 419.3,1138 416,1130C412.7,1122 406.1,1108.3 405,1100C403.9,1091.7 406,1074.4 408,1068C410,1061.6 418.9,1052.8 420,1052Z"/>
<path fill="#f3d9cf" d="M546,1057C546.3,1056.2 573.7,1063.1 582,1066C590.3,1068.9 602.3,1074.6 608.5,1079C614.7,1083.4 623.1,1093.7 628.4,1099C633.7,1104.3 643.1,1115.4 648.4,1119C653.7,1122.6 662.7,1125.6 668,1126C673.3,1126.4 682.9,1123.4 688,1122C693.1,1120.6 702.5,1112.7 706,1115.5C709.5,1118.3 712.7,1136.3 714,1143C715.3,1149.7 715.9,1160.1 715.6,1166C715.3,1171.9 713.6,1180.3 711.5,1187C709.4,1193.7 705.4,1208.3 700,1216C694.6,1223.7 680.3,1238.7 671,1245C661.7,1251.3 641.7,1258.3 630,1263C618.3,1267.7 588.1,1278.5 583.5,1280C578.9,1281.5 591.6,1278.7 595.5,1274C599.4,1269.3 608.6,1255.8 612.5,1245C616.4,1234.2 623.7,1207.7 624.5,1193C625.3,1178.3 621.6,1147.9 618.5,1135C615.4,1122.1 606.1,1104.4 601,1096C595.9,1087.6 587.3,1077.2 580,1072C572.7,1066.8 545.7,1057.8 546,1057Z"/>
<path fill="none" stroke="#f3d9cf" stroke-width="5" d="M435,1046C445.4,1046.8 479,1048.5 497.5,1050.5C516,1052.5 533.1,1055.1 546,1058C558.9,1060.9 570.2,1066.3 575,1068"/>
<path fill="#f3d9cf" d="M408,1372C408,1373.7 427.1,1386.3 437,1391C446.9,1395.7 471.5,1405 482.6,1407.5C493.7,1410 511.1,1409.8 520,1409.5C528.9,1409.2 542.9,1406.8 549,1405C555.1,1403.2 564.3,1398.4 565.7,1396C567.1,1393.6 565.6,1387.1 559.5,1386.7C553.4,1386.3 530.3,1393 520,1393C509.7,1393 493.7,1388.7 482.6,1386.7C471.5,1384.7 446.9,1380 437,1378C427.1,1376 408,1370.3 408,1372Z"/>
<path fill="#fffde6" d="M420,655C423.2,652.3 430.9,644 432,650C433.1,656 428.3,686.7 428,700C427.7,713.3 428,735.3 430,750C432,764.7 439,794.5 443,810C447,825.5 453.5,851.9 460,866C466.5,880.1 482.4,903.2 492,916C501.6,928.8 521.3,951.2 532,962C542.7,972.8 568.3,992.6 572,997C575.7,1001.4 566.9,999.7 560,995C553.1,990.3 530.9,972.5 520,962C509.1,951.5 487.9,928.8 478,916C468.1,903.2 453.1,881.5 446,866C438.9,850.5 429.8,815.5 425,800C420.2,784.5 413.1,763.3 410,750C406.9,736.7 402.3,710.7 402,700C401.7,689.3 405.6,676 408,670C410.4,664 416.8,657.7 420,655Z"/>
<path fill="#fffde6" d="M629,1080C628.2,1078 640.8,1085.7 646,1088C651.2,1090.3 659.7,1096 668,1097C676.3,1098 703.9,1094.3 708,1095.5C712.1,1096.7 702.3,1103.5 699,1106C695.7,1108.5 687.1,1113.1 683,1114C678.9,1114.9 672.1,1114 668,1112.5C663.9,1111 657.2,1107.3 652,1103C646.8,1098.7 629.8,1082 629,1080Z"/>
<path fill="#fffde6" d="M425,1006C425,1004.7 435.3,1008.1 440,1010C444.7,1011.9 456,1016.7 460,1020C464,1023.3 470.7,1033.7 470,1035C469.3,1036.3 459,1032 455,1030C451,1028 444,1023.2 440,1020C436,1016.8 425,1007.3 425,1006Z"/>
</g>
<g id="shadeR">
<path fill="#f3d9cf" d="M476,377.6C474.1,373.9 464.7,358.9 460,352C455.3,345.1 445.3,331.6 441,326C436.7,320.4 433.5,314.5 428,310C422.5,305.5 408.9,295.6 400,292C391.1,288.4 373.3,283.9 361,283C348.7,282.1 310.8,282.1 308,285C305.2,287.9 332.9,299 340,305C347.1,311 355.7,323.7 361,330C366.3,336.3 376,346.7 380,352C384,357.3 388.3,364.5 391,369.6C393.7,374.7 398.4,384.2 400,390C401.6,395.8 403.7,406.9 403,413C402.3,419.1 397.9,429.9 395,436C392.1,442.1 384.3,452.5 381,459C377.7,465.5 372.2,478.3 370,485C367.8,491.7 364.7,500.9 364.4,509C364.1,517.1 365.3,536.7 368,546C370.7,555.3 381.1,569.3 384.4,579C387.7,588.7 389.9,611.5 393,619C396.1,626.5 404.3,634.1 408,635.6C411.7,637.1 414.4,631.3 421,630.6C427.6,629.9 453.8,632.1 457.5,630.6C461.2,629.1 451.2,623.6 449,619C446.8,614.4 441.7,602.7 441,596C440.3,589.3 442.1,577 444,569C445.9,561 453.1,546.2 455.5,536C457.9,525.8 460.2,505.9 462,492.6C463.8,479.3 467.4,451.1 469,436C470.6,420.9 473.1,387.4 474,379.6C474.9,371.8 477.9,381.3 476,377.6Z"/>
<path fill="#dbaea3" d="M198,291C197.7,288.7 191.3,301 188,305C184.7,309 179,316.9 173,321C167,325.1 149.3,330.4 143,336C136.7,341.6 130.3,353.2 126,363C121.7,372.8 113.7,398.4 111,409.5C108.3,420.6 105.7,434.9 106,446C106.3,457.1 109.4,479.3 113,492.6C116.6,505.9 127.3,531.8 133,546C138.7,560.2 152.5,592.9 156,599C159.5,605.1 159.8,599.1 159,592C158.2,584.9 152.8,559.3 150,546C147.2,532.7 140.4,505.3 138,492C135.6,478.7 132.4,456.9 132,446C131.6,435.1 132.6,420.8 135,410C137.4,399.2 145.3,374.6 150,365C154.7,355.4 164.7,343.7 170,338C175.3,332.3 186.3,328.3 190,322C193.7,315.7 198.3,293.3 198,291Z"/>
<path fill="#fffde6" d="M141.6,319.8C143.8,314.5 127.8,336.5 121.6,346.3C115.4,356.1 99.9,378.8 95,393C90.1,407.2 85.9,438.2 85,452.8C84.1,467.4 85.7,487.1 88.4,502.6C91.1,518.1 100.6,551.3 105,569C109.4,586.7 118.9,623.2 121.6,635.6C124.3,648 123.2,658 125,662C126.8,666 132.3,667.3 135,665.6C137.7,663.9 144.6,657.4 145,649C145.4,640.6 141.9,615.3 138.3,602.4C134.7,589.5 123.6,565.8 118.3,552.5C113,539.2 101.5,515.9 98.4,502.6C95.3,489.3 94.1,468.3 95,452.8C95.9,437.3 98.8,403.7 105,386C111.2,368.3 139.4,325.1 141.6,319.8Z"/>
<path fill="#f3d9cf" d="M158.2,692C154.5,687.2 136.8,694 132,694C127.2,694 122.5,688.5 122,692C121.5,695.5 126.2,712.9 128.3,720C130.4,727.1 134.8,739.7 138,745C141.2,750.3 148.7,757.7 152,760C155.3,762.3 161.9,766 163,762C164.1,758 160.6,739.3 160,730C159.4,720.7 161.9,696.8 158.2,692Z"/>
<path fill="#f3d9cf" d="M43,399.5C41.9,398.3 41.2,416.7 41.5,426C41.8,435.3 45.5,457.5 45,469C44.5,480.5 38.7,501.9 38,512.6C37.3,523.3 38,538.8 40,549C42,559.2 48.1,577.5 53,589C57.9,600.5 71.6,626.8 76.5,635.6C81.4,644.4 89,655.7 90,655C91,654.3 87.7,639.2 84,630C80.3,620.8 66.5,596.8 62,586C57.5,575.2 51.9,558.9 50,549C48.1,539.1 47.6,522.5 48,512C48.4,501.5 52.7,480.3 53,470C53.3,459.7 51.3,444.4 50,435C48.7,425.6 44.1,400.7 43,399.5Z"/>
<path fill="#f3d9cf" d="M191.5,846C195.6,844.8 214.4,847.4 225,851C235.6,854.6 261.3,866.5 271.3,873C281.3,879.5 292.9,892.5 300,900C307.1,907.5 319,920.6 324.5,929.4C330,938.2 337.6,955.4 341.1,966C344.6,976.6 347,997.9 351,1009C355,1020.1 368.1,1041.9 371,1049C373.9,1056.1 374.3,1060.2 373,1062.4C371.7,1064.6 365.3,1066.2 361,1065.7C356.7,1065.2 345.9,1059 341,1059C336.1,1059 329.4,1063.5 324.5,1065.7C319.6,1067.9 310.3,1075.7 304.5,1075.7C298.7,1075.7 288.4,1070.6 281.3,1065.7C274.2,1060.8 258.8,1047.9 251.3,1039C243.8,1030.1 231.6,1010.9 225,999C218.4,987.1 205.8,962.7 201.5,949.4C197.2,936.1 194,911.4 193,899.5C192,887.6 194.2,867.1 194,860C193.8,852.9 187.4,847.2 191.5,846Z"/>
<path fill="#dbaea3" d="M205,856C207.3,852.5 216.2,850.5 225,853C233.8,855.5 261.3,868.5 271.3,875C281.3,881.5 292.9,894.5 300,902C307.1,909.5 319.2,922.5 324.5,931C329.8,939.5 336.7,955.6 340,966C343.3,976.4 345.1,997.9 349,1009C352.9,1020.1 366.1,1042.1 369,1049C371.9,1055.9 372.1,1059 371,1061C369.9,1063 365,1064.5 361,1064C357,1063.5 345.9,1057 341,1057C336.1,1057 329.8,1062 324.5,1064C319.2,1066 305.6,1072.7 301.2,1072C296.8,1071.3 295.3,1066.5 291.3,1059C287.3,1051.5 278,1026.2 271.3,1016C264.6,1005.8 249.4,995.9 241.4,982.6C233.4,969.3 216,929.7 211.5,916C207,902.3 208.9,887.5 208,879.5C207.1,871.5 202.7,859.5 205,856Z"/>
<path fill="#c38f86" d="M205,856C207.3,852.5 216.2,850.5 225,853C233.8,855.5 261.3,868.5 271.3,875C281.3,881.5 292.9,894.5 300,902C307.1,909.5 319.2,922.5 324.5,931C329.8,939.5 338.7,960.5 340,966C341.3,971.5 338.8,976.1 334.5,972.6C330.2,969.1 316.4,949.1 308,939.4C299.6,929.7 282.4,908 271.3,899.5C260.2,891 233.4,878.7 225,876C216.6,873.3 210.7,882.2 208,879.5C205.3,876.8 202.7,859.5 205,856Z"/>
<path fill="#f3d9cf" d="M424.2,1049C420.8,1051.3 403.1,1072.8 394.3,1079C385.5,1085.2 368.2,1092.6 358,1095.7C347.8,1098.8 322.5,1098 318,1102C313.5,1106 322.8,1117.1 324.5,1125.6C326.2,1134.1 329.8,1155.2 331.1,1165.5C332.4,1175.8 329.1,1196.8 334,1203C338.9,1209.2 358,1209.7 367.5,1212C377,1214.3 396.7,1216.8 405,1220.5C413.3,1224.2 423.1,1237.2 429.5,1239.5C435.9,1241.8 450.4,1241.3 453,1238C455.6,1234.7 449.5,1221.9 449,1215C448.5,1208.1 449,1194.4 449,1186C449,1177.6 450.5,1160 449,1152C447.5,1144 441.1,1133.5 437.6,1126C434.1,1118.5 425,1104.5 422.7,1096C420.4,1087.5 419.8,1068.3 420,1062C420.2,1055.7 427.6,1046.7 424.2,1049Z"/>
<path fill="#dbaea3" d="M421,1052C418.1,1054.3 400.2,1072.7 398,1079C395.8,1085.3 402.1,1092.8 404.3,1099C406.5,1105.2 411.2,1117.6 414.3,1125.6C417.4,1133.6 425.5,1150.4 427.6,1159C429.7,1167.6 428.6,1181.2 430,1190C431.4,1198.8 434.9,1218.6 438,1225C441.1,1231.4 451.5,1239.3 453,1238C454.5,1236.7 449.5,1221.9 449,1215C448.5,1208.1 449,1194.4 449,1186C449,1177.6 450.5,1160 449,1152C447.5,1144 441.1,1133.5 437.6,1126C434.1,1118.5 425,1104.5 422.7,1096C420.4,1087.5 420.2,1067.9 420,1062C419.8,1056.1 423.9,1049.7 421,1052Z"/>
<path fill="#dbaea3" d="M618,1335C620.4,1335.7 614.7,1343.6 608,1352C601.3,1360.4 580,1389.2 568,1398C556,1406.8 532.5,1415.9 518,1418C503.5,1420.1 471.5,1418 459,1414C446.5,1410 422.3,1390.9 424,1388C425.7,1385.1 459.5,1391.9 471.4,1392C483.3,1392.1 501.9,1391.7 513,1389C524.1,1386.3 544.2,1377.6 554.5,1372C564.8,1366.4 581.5,1351.9 590,1347C598.5,1342.1 615.6,1334.3 618,1335Z"/>
<path fill="#f3d9cf" d="M546,1057C546.3,1056.2 573.7,1063.1 582,1066C590.3,1068.9 602.3,1074.6 608.5,1079C614.7,1083.4 623.1,1093.7 628.4,1099C633.7,1104.3 643.1,1115.4 648.4,1119C653.7,1122.6 662.7,1125.6 668,1126C673.3,1126.4 682.2,1124.7 688,1122C693.8,1119.3 706.2,1110 711.5,1105.6C716.8,1101.2 725.1,1091.9 728,1089C730.9,1086.1 732.3,1078.9 733,1084C733.7,1089.1 733.6,1115.8 733,1127C732.4,1138.2 729.2,1158.8 728.7,1168C728.2,1177.2 731,1189.9 729,1196C727,1202.1 718,1209.1 714,1214C710,1218.9 704.3,1227.1 698.7,1233C693.1,1238.9 678.5,1250.8 672,1258C665.5,1265.2 654.3,1284.7 650,1287C645.7,1289.3 646.7,1275.7 640,1275C633.3,1274.3 607.5,1281.3 600,1282C592.5,1282.7 584.1,1281.1 583.5,1280C582.9,1278.9 591.6,1278.7 595.5,1274C599.4,1269.3 608.6,1255.8 612.5,1245C616.4,1234.2 623.7,1207.7 624.5,1193C625.3,1178.3 621.6,1147.9 618.5,1135C615.4,1122.1 606.1,1104.4 601,1096C595.9,1087.6 587.3,1077.2 580,1072C572.7,1066.8 545.7,1057.8 546,1057Z"/>
<path fill="#dbaea3" d="M731.3,1103C729,1100.5 719.9,1117.9 714.4,1121.6C708.9,1125.3 696.2,1130.4 690,1131C683.8,1131.6 666.4,1125.2 668,1126C669.6,1126.8 696.4,1134.1 702,1137C707.6,1139.9 708.9,1145.5 710,1148C711.1,1150.5 709.4,1154.1 710,1155.5C710.6,1156.9 713.6,1156.1 714.4,1158.6C715.2,1161.1 715.7,1169.5 716,1174C716.3,1178.5 716.1,1189.4 716.7,1192.5C717.3,1195.6 719.2,1196.6 720.5,1197C721.8,1197.4 725.4,1198.7 726.7,1195.6C728,1192.5 729.4,1181.4 730,1174C730.6,1166.6 731.1,1149.5 731.3,1140C731.5,1130.5 733.6,1105.5 731.3,1103Z"/>
<path fill="none" stroke="#f3d9cf" stroke-width="5" d="M435,1046C445.4,1046.8 479,1048.5 497.5,1050.5C516,1052.5 533.1,1055.1 546,1058C558.9,1060.9 570.2,1066.3 575,1068"/>
<path fill="#fffde6" d="M420,752C420.5,752 421.3,786.1 424,800C426.7,813.9 434.1,841.3 440,856C445.9,870.7 459.3,895.9 468,910C476.7,924.1 494.1,949.6 505,962C515.9,974.4 537.3,992.6 550,1003C562.7,1013.4 585.3,1031.7 600,1040C614.7,1048.3 644.7,1060.3 660,1065C675.3,1069.7 707.3,1072.3 715,1075C722.7,1077.7 718.1,1081.9 718,1085C717.9,1088.1 715.2,1098.4 714,1098C712.8,1097.6 712.2,1084.7 709,1082C705.8,1079.3 699.2,1080.1 690,1078C680.8,1075.9 654,1070.4 640,1066C626,1061.6 599,1052.7 585,1045C571,1037.3 547.4,1018.7 535,1008C522.6,997.3 502.3,977.8 492,965C481.7,952.2 466,926.5 458,912C450,897.5 437.1,870.9 432,856C426.9,841.1 421.6,813.9 420,800C418.4,786.1 419.5,752 420,752Z"/>
<path fill="#fffde6" d="M475,1030C472.3,1025.6 457.1,1015.3 450,1012C442.9,1008.7 424,1004.6 422,1005C420,1005.4 430.6,1011.7 435,1015C439.4,1018.3 450.3,1026 455,1030C459.7,1034 467.3,1045 470,1045C472.7,1045 477.7,1034.4 475,1030Z"/>
</g>
<g id="shadeSac">
<path fill="#f3d9cf" d="M613,519C607.8,519.2 607.6,531.8 605,538C602.4,544.2 595.6,563.4 591,572C586.4,580.6 571.6,603.5 565.6,611.5C559.6,619.5 545.3,635.4 540,640.5C534.7,645.6 519.4,651.8 520,655C520.6,658.2 540.1,665.5 545,668C549.9,670.5 554.6,675.1 562,676C569.4,676.9 598.9,676.5 608,676C617.1,675.5 635.1,673.4 640,672C644.9,670.6 647,664.4 650,664C653,663.6 661.9,667 666,668.6C670.1,670.2 679.8,675.9 685,678C690.2,680.1 703.5,685 710.5,686.5C717.5,688 735.1,691 745,690.8C754.9,690.6 785.7,686.9 795.7,684.8C805.7,682.7 824.9,674.9 830.7,672.9C836.5,670.9 841.6,667.9 845,668C848.4,668.1 854.8,673 860,674C865.2,675 881.8,677 890,677C898.2,677 921.8,676.6 930,674C938.2,671.4 957.7,660.5 960,655C962.3,649.5 953.3,631.5 950,627C946.7,622.5 938.1,621 932,616.6C925.9,612.2 904.8,596.2 898,589C891.2,581.8 877.5,561.9 874,555C870.5,548.1 872,531.9 868,529.7C864,527.5 854.4,534.6 840,536C825.6,537.4 767.2,542 745,542C722.8,542 665.4,538.7 650,536C634.6,533.3 618.2,518.8 613,519Z"/>
<path fill="#dbaea3" d="M562,666C563.6,664 574.9,658.4 580,656C585.1,653.6 595.9,649.3 600,648C604.1,646.7 610.6,644.8 611,646C611.4,647.2 604.6,653.8 603,657C601.4,660.2 599.4,667.5 599,670C598.6,672.5 601.9,675.5 600,676C598.1,676.5 589.3,674.7 585,674C580.7,673.3 571.1,672.1 568,671C564.9,669.9 560.4,668 562,666Z"/>
<path fill="#dbaea3" d="M928,666C926.4,664 915.1,658.4 910,656C904.9,653.6 894.1,649.3 890,648C885.9,646.7 879.4,644.8 879,646C878.6,647.2 885.4,653.8 887,657C888.6,660.2 890.6,667.5 891,670C891.4,672.5 888.1,675.5 890,676C891.9,676.5 900.7,674.7 905,674C909.3,673.3 918.9,672.1 922,671C925.1,669.9 929.6,668 928,666Z"/>
<path fill="#f3d9cf" d="M586,724C592.5,722.4 617.4,720.3 623,722C628.6,723.7 626.3,733.9 628,737C629.7,740.1 638,742.7 636,745C634,747.3 619.4,753.6 613,754C606.6,754.4 593.2,750.7 588,748C582.8,745.3 574.3,737.2 574,734C573.7,730.8 579.5,725.6 586,724Z"/>
<path fill="#f3d9cf" d="M904,724C897.5,722.4 872.6,720.3 867,722C861.4,723.7 863.7,733.9 862,737C860.3,740.1 852,742.7 854,745C856,747.3 870.6,753.6 877,754C883.4,754.4 896.8,750.7 902,748C907.2,745.3 915.7,737.2 916,734C916.3,730.8 910.5,725.6 904,724Z"/>
<path fill="#f3d9cf" d="M613,791C616.1,788.6 633.2,790.3 640,790C646.8,789.7 659.2,787.9 664,789C668.8,790.1 672.5,796 676,798C679.5,800 690.1,801.1 690,804C689.9,806.9 678.2,814.9 675,820C671.8,825.1 668.5,837.3 666,842C663.5,846.7 660.1,856.2 656,855C651.9,853.8 640.2,839.3 635,833C629.8,826.7 619.9,813.6 617,808C614.1,802.4 609.9,793.4 613,791Z"/>
<path fill="#f3d9cf" d="M877,791C873.9,788.6 856.8,790.3 850,790C843.2,789.7 830.8,787.9 826,789C821.2,790.1 817.5,796 814,798C810.5,800 799.9,801.1 800,804C800.1,806.9 811.8,814.9 815,820C818.2,825.1 821.5,837.3 824,842C826.5,846.7 829.9,856.2 834,855C838.1,853.8 849.8,839.3 855,833C860.2,826.7 870.1,813.6 873,808C875.9,802.4 880.1,793.4 877,791Z"/>
<path fill="none" stroke="#f3d9cf" stroke-width="9" stroke-linecap="round" d="M838,682C835.8,685.8 830.5,697.3 825,705C819.5,712.7 812.5,722.5 805,728C797.5,733.5 788.3,735.7 780,738C771.7,740.3 765,741.7 755,742C745,742.3 730.8,741.5 720,740C709.2,738.5 695,734.2 690,733"/>
<path fill="none" stroke="#f3d9cf" stroke-width="6" stroke-linecap="round" d="M812,748C810,751.7 804.5,763.3 800,770C795.5,776.7 790.8,783.5 785,788C779.2,792.5 771.7,795.2 765,797C758.3,798.8 751.7,799.3 745,799C738.3,798.7 730.5,796.5 725,795C719.5,793.5 714.2,790.8 712,790"/>
<path fill="#f3d9cf" d="M722,959C724,958.1 751.9,955.5 760,953C768.1,950.5 778.5,941.7 783,940C787.5,938.3 792.8,938.4 794,940C795.2,941.6 794.5,949.6 792,952C789.5,954.4 781.3,956.9 775,958C768.7,959.1 752.1,959.9 745,960C737.9,960.1 720,959.9 722,959Z"/>
<path fill="#f3d9cf" d="M730,981C731.3,979.9 749.7,976.7 755,975C760.3,973.3 767.6,968.4 770,968C772.4,967.6 773.7,970.4 773,972C772.3,973.6 768.7,978.5 765,980C761.3,981.5 749.7,982.9 745,983C740.3,983.1 728.7,982.1 730,981Z"/>
<path fill="#f3d9cf" d="M746,1010C747.1,1008.7 754.4,1007.3 756,1008C757.6,1008.7 758.8,1012.9 758,1015C757.2,1017.1 751.3,1023.6 750,1024C748.7,1024.4 748.5,1019.9 748,1018C747.5,1016.1 744.9,1011.3 746,1010Z"/>
</g>
<g id="sacTop">
<ellipse cx="745" cy="516.3" rx="130" ry="24.6" fill="inherit"/>
</g>
<g id="sacTopDeco" fill="none" stroke="#f3d9cf" stroke-width="2.6" stroke-linecap="round">
<path d="M656,522c-10,-2 -14,-7 -4,-11c20,-6 60,-8 76,-8"/>
<path d="M691,518c-12,-1 -10,-6 0,-7c30,-2 90,-2 112,4"/>
<path d="M718,521c20,2 60,2 84,-1"/>
<path d="M673,525c30,6 70,8 110,6c25,-1 48,-4 53,-10"/>
<path d="M758,502c15,-1 20,1 28,4c20,2 50,4 58,10"/>
</g>
<path id="symph" d="M731,1049.3C730.8,1052.1 729.7,1058 730,1066C730.3,1074 732.3,1086.7 733,1097C733.7,1107.3 734.1,1118.8 734,1127.8C733.9,1136.8 733.4,1144.3 732.5,1151C731.6,1157.7 729.2,1161.6 728.7,1168C728.2,1174.4 728.9,1184.4 729.4,1189.4C729.9,1194.4 730.2,1195.1 731.5,1198C732.8,1200.9 734.8,1204.9 737,1207C739.2,1209.1 742.3,1210.8 745,1210.8C747.7,1210.8 750.8,1209.1 753,1207C755.2,1204.9 757.2,1200.9 758.5,1198C759.8,1195.1 760.1,1194.4 760.6,1189.4C761.1,1184.4 761.8,1174.4 761.3,1168C760.8,1161.6 758.4,1157.7 757.5,1151C756.6,1144.3 756.1,1136.8 756,1127.8C755.9,1118.8 756.3,1107.3 757,1097C757.7,1086.7 759.7,1074 760,1066C760.3,1058 759.2,1052.1 759,1049.3"/>
<g id="pelvisMain">
<g fill="#fef0d9"><use href="#hipFill"/><use href="#sacFill"/><use href="#hipFill" transform="translate(1490,0) scale(-1,1)"/><use href="#sacFill" transform="translate(1490,0) scale(-1,1)"/></g>
<g clip-path="url(#clipHip)"><use href="#innerLp"/><use href="#innerL"/><use href="#shadeL"/></g>
<g transform="translate(1490,0) scale(-1,1)"><g clip-path="url(#clipHip)"><use href="#innerR"/><use href="#shadeR"/></g></g>
<g clip-path="url(#clipSac)"><use href="#shadeSac"/></g>
<path d="M731,1049.3C730.8,1052.1 729.7,1058 730,1066C730.3,1074 732.3,1086.7 733,1097C733.7,1107.3 734.1,1118.8 734,1127.8C733.9,1136.8 733.4,1144.3 732.5,1151C731.6,1157.7 729.2,1161.6 728.7,1168C728.2,1174.4 728.9,1184.4 729.4,1189.4C729.9,1194.4 730.2,1195.1 731.5,1198C732.8,1200.9 734.8,1204.9 737,1207C739.2,1209.1 742.3,1210.8 745,1210.8C747.7,1210.8 750.8,1209.1 753,1207C755.2,1204.9 757.2,1200.9 758.5,1198C759.8,1195.1 760.1,1194.4 760.6,1189.4C761.1,1184.4 761.8,1174.4 761.3,1168C760.8,1161.6 758.4,1157.7 757.5,1151C756.6,1144.3 756.1,1136.8 756,1127.8C755.9,1118.8 756.3,1107.3 757,1097C757.7,1086.7 759.7,1074 760,1066C760.3,1058 759.2,1052.1 759,1049.3" fill="#e1f6f8" stroke="#263537" stroke-width="3.7"/>
<g stroke="#263537" stroke-width="3.7">
<use href="#hipLines"/><use href="#sacLines"/>
<g transform="translate(1490,0) scale(-1,1)"><use href="#hipLines"/><use href="#sacLines"/></g>
<g fill="#fef0d9"><use href="#sacTop"/></g>
</g>
<g fill="none" stroke="#263537" stroke-width="3.4" stroke-linecap="round"><path d="M755,929.5L776.500,932"/><path d="M742,966.500C750,967.500 760,966.500 766,964.500"/><path d="M755,988.500L757.500,989.200"/><path d="M744.500,1006.200C748,1006.600 752,1006 754.800,1004.800"/></g>
<use href="#sacTopDeco"/>
<ellipse cx="745" cy="516.3" rx="130" ry="24.6" fill="none" stroke="#263537" stroke-width="3.7"/>
</g>
<path id="gHipFill" fill-rule="evenodd" d="M425.7,347.2C422.9,342.8 415.1,329.6 409.1,320.8C403,312.1 395.8,302.9 389.5,294.5C383.2,286.1 377,277.3 371.1,270.5C365.2,263.6 361.5,259.1 354,253.5C346.5,247.8 337.2,240.5 326,236.5C314.8,232.5 303.8,230.8 286.8,229.3C269.8,227.9 241,229.6 223.9,227.9C206.8,226.2 196.1,220.8 184.3,219C172.4,217.2 163.9,216.4 152.7,217C141.5,217.6 131.5,219 117.1,222.7C102.6,226.5 83.8,232.5 66,239.6C48.2,246.7 28.1,255.5 10.2,265.3C-7.6,275.1 -27,287.6 -40.8,298.2C-54.5,308.9 -64.3,317.2 -72.2,329.1C-80.2,341 -85.3,358.4 -88.3,369.7C-91.2,381 -90.5,385 -90.1,397C-89.7,408.9 -85.2,426.3 -85.9,441.2C-86.6,456 -93.2,472.3 -94.2,486C-95.2,499.7 -94.8,510.4 -91.8,523.5C-88.9,536.6 -83.6,549.8 -76.4,564.6C-69.2,579.4 -57.1,599.4 -48.5,612.5C-39.9,625.6 -33.4,634 -24.9,643.3C-16.3,652.6 -1.8,664.3 2.8,668.5C4.4,675.9 9.4,698.5 12.6,712.7C15.8,726.9 18.6,741.8 22.1,753.8C25.7,765.8 30.5,776.6 34,784.7C37.5,792.8 40.2,798.2 43.2,802.2C46.3,806.2 48,807 52.1,808.7C56.3,810.4 63.7,810.6 68.4,812.5C73.1,814.4 77.1,817.7 80.3,820.2C83.4,822.7 86.2,826.3 87.4,827.5C87.1,834.6 84.9,856.1 85.6,870.1C86.3,884 88.6,897.5 91.6,911.2C94.5,924.9 98.5,939.8 103.4,952.3C108.4,964.9 114.3,974.3 121.2,986.3C128.1,998.3 137,1012.9 144.9,1024.3C152.7,1035.8 160.9,1047.8 168.1,1055.2C175.4,1062.6 181,1065 188.3,1068.6C195.6,1072.2 206.1,1073.4 212,1076.8C218,1080.2 219.4,1080.8 223.9,1089.1C228.5,1097.5 235.1,1114.3 239.3,1126.8C243.6,1139.3 246.8,1152.3 249.4,1164.2C252.1,1176.1 253.1,1183.4 255.4,1198.2C257.6,1212.9 260.2,1233 263.1,1252.7C265.9,1272.4 268.7,1300.1 272.4,1316.4C276.2,1332.8 276.5,1340.8 285.6,1350.8C294.7,1360.7 313.1,1368.3 327.1,1376.1C341.1,1383.9 354.9,1391.9 369.6,1397.7C384.2,1403.4 399.4,1408.6 414.8,1410.6C430.2,1412.7 448,1410.9 462,1409.7C476,1408.6 489.3,1406.2 499.1,1403.9C508.9,1401.5 511.7,1400.9 520.8,1395.6C530,1390.3 541,1384.5 554,1372C566.9,1359.5 582.4,1339.1 598.5,1320.6C614.6,1302 635.4,1276.5 650.6,1260.9C665.9,1245.3 680.4,1235.9 690,1227C699.6,1218 702.6,1213.2 708.2,1207.4C713.8,1201.7 721.1,1195 723.6,1192.5C724.1,1190.8 726.1,1187.5 726.5,1182.1C726.8,1176.7 725,1166.7 725.7,1160.1C726.3,1153.5 729.1,1149.5 730.2,1142.6C731.2,1135.7 731.8,1128 731.9,1118.8C732,1109.5 731.5,1097.7 730.8,1087.1C730,1076.5 727.6,1063.4 727.2,1055.2C726.8,1047 728.2,1040.9 728.4,1038C727.5,1037.9 726.3,1038.9 723,1037.5C719.8,1036.1 713.6,1031.6 708.8,1029.5C703.9,1027.4 700,1025.1 694,1025.1C687.9,1025.1 679.7,1029 672.6,1029.5C665.5,1030 660.7,1030.5 651.2,1028.3C641.7,1026 628.7,1021.4 615.6,1015.8C602.6,1010.2 586.9,1002.2 572.9,994.5C558.8,986.8 544.8,978.7 531.3,969.4C517.9,960.1 498.7,943.8 492.2,938.7C495.8,934.9 502,929.4 504,924.6C506.1,919.8 507.8,913.8 506.4,908.1C505,902.5 500.7,896.4 495.7,890.6C490.7,884.9 484.9,879.1 476.4,873.7C467.9,868.3 453.9,863.4 444.7,858.2C435.5,853.1 424.9,845.5 420.9,842.9C419,836.6 412,817.2 409.1,805.3C406.1,793.3 403.4,782.1 403.1,771.3C402.8,760.5 402.9,750.2 407.3,740.5C411.7,730.7 420.5,719.7 429.3,712.7C438.1,705.7 450.3,701.7 460.1,698.3C470,694.9 483.6,693.2 488.3,692.1C487.5,689.7 486.2,683.3 483.9,677.7C481.5,672.2 479.5,663.9 474.4,658.7C469.2,653.6 461.9,652.3 453,646.9C444.1,641.5 430.8,634.9 420.9,626.3C411.1,617.7 399.9,604.6 393.6,595.5C387.4,586.3 384.7,580.1 383.7,571.5C382.7,562.9 384.8,554.3 387.7,544C390.7,533.8 397.8,523.2 401.4,510.1C404.9,497 406.4,482.6 409.1,465.5C411.7,448.3 415,426.6 417.4,407.2C419.8,387.9 421.9,359.2 423.3,349.2C424.7,339.2 425.3,347.5 425.7,347.2ZM368.7,1034.6C353.4,1036.8 360.3,1042.5 359.2,1051.1C358.2,1059.7 358.9,1075.1 362.4,1086.1C365.9,1097 374.9,1107.3 380.1,1116.9C385.3,1126.5 391.4,1133.4 393.6,1143.6C395.9,1153.9 392.9,1167.8 393.6,1178.6C394.4,1189.4 395.2,1200 398.4,1208.4C401.6,1216.8 407.5,1223.9 412.6,1229C417.8,1234.2 422.3,1234.7 429.3,1239.3C436.2,1243.9 446.2,1251.8 454.2,1256.8C462.2,1261.8 468.8,1266 477.3,1269.1C485.8,1272.2 496,1274.1 505.2,1275.3C514.4,1276.5 524.5,1276.3 532.4,1276.3C540.3,1276.3 546.9,1276.5 552.7,1275.3C558.6,1274.1 563,1272.4 567.5,1269.1C572.1,1265.9 576.6,1260.7 580,1255.8C583.4,1250.8 585,1246.3 587.7,1239.3C590.5,1232.3 594.3,1222.5 596.6,1213.6C599,1204.7 601.4,1196.1 602,1185.8C602.6,1175.5 601.4,1161.8 600.2,1151.9C599,1141.9 597.4,1134.4 594.8,1126.2C592.3,1117.9 588.2,1109.2 584.8,1102.5C581.3,1095.8 580,1092.9 574.1,1086.1C568.1,1079.2 560,1068.1 549.1,1061.4C538.3,1054.7 525.1,1049.8 508.8,1045.9C492.5,1042.1 474.6,1040.2 451.2,1038.3C427.9,1036.4 384.1,1032.5 368.7,1034.6Z"/>
<g id="ghostHipLines" fill="none" stroke-linecap="round" stroke-linejoin="round">
<path d="M425.7,347.2C422.9,342.8 415.1,329.6 409.1,320.8C403,312.1 395.8,302.9 389.5,294.5C383.2,286.1 377,277.3 371.1,270.5C365.2,263.6 361.5,259.1 354,253.5C346.5,247.8 337.2,240.5 326,236.5C314.8,232.5 303.8,230.8 286.8,229.3C269.8,227.9 241,229.6 223.9,227.9C206.8,226.2 196.1,220.8 184.3,219C172.4,217.2 163.9,216.4 152.7,217C141.5,217.6 131.5,219 117.1,222.7C102.6,226.5 83.8,232.5 66,239.6C48.2,246.7 28.1,255.5 10.2,265.3C-7.6,275.1 -27,287.6 -40.8,298.2C-54.5,308.9 -64.3,317.2 -72.2,329.1C-80.2,341 -85.3,358.4 -88.3,369.7C-91.2,381 -90.5,385 -90.1,397C-89.7,408.9 -85.2,426.3 -85.9,441.2C-86.6,456 -93.2,472.3 -94.2,486C-95.2,499.7 -94.8,510.4 -91.8,523.5C-88.9,536.6 -83.6,549.8 -76.4,564.6C-69.2,579.4 -57.1,599.4 -48.5,612.5C-39.9,625.6 -33.4,634 -24.9,643.3C-16.3,652.6 -1.8,664.3 2.8,668.5C4.4,675.9 9.4,698.5 12.6,712.7C15.8,726.9 18.6,741.8 22.1,753.8C25.7,765.8 30.5,776.6 34,784.7C37.5,792.8 40.2,798.2 43.2,802.2C46.3,806.2 48,807 52.1,808.7C56.3,810.4 63.7,810.6 68.4,812.5C73.1,814.4 77.1,817.7 80.3,820.2C83.4,822.7 86.2,826.3 87.4,827.5C87.1,834.6 84.9,856.1 85.6,870.1C86.3,884 88.6,897.5 91.6,911.2C94.5,924.9 98.5,939.8 103.4,952.3C108.4,964.9 114.3,974.3 121.2,986.3C128.1,998.3 137,1012.9 144.9,1024.3C152.7,1035.8 160.9,1047.8 168.1,1055.2C175.4,1062.6 181,1065 188.3,1068.6C195.6,1072.2 206.1,1073.4 212,1076.8C218,1080.2 219.4,1080.8 223.9,1089.1C228.5,1097.5 235.1,1114.3 239.3,1126.8C243.6,1139.3 246.8,1152.3 249.4,1164.2C252.1,1176.1 253.1,1183.4 255.4,1198.2C257.6,1212.9 260.2,1233 263.1,1252.7C265.9,1272.4 268.7,1300.1 272.4,1316.4C276.2,1332.8 276.5,1340.8 285.6,1350.8C294.7,1360.7 313.1,1368.3 327.1,1376.1C341.1,1383.9 354.9,1391.9 369.6,1397.7C384.2,1403.4 399.4,1408.6 414.8,1410.6C430.2,1412.7 448,1410.9 462,1409.7C476,1408.6 489.3,1406.2 499.1,1403.9C508.9,1401.5 511.7,1400.9 520.8,1395.6C530,1390.3 541,1384.5 554,1372C566.9,1359.5 582.4,1339.1 598.5,1320.6C614.6,1302 635.4,1276.5 650.6,1260.9C665.9,1245.3 680.4,1235.9 690,1227C699.6,1218 702.6,1213.2 708.2,1207.4C713.8,1201.7 721.1,1195 723.6,1192.5"/>
<path d="M87.4,827.9C91.8,828.4 102.6,828.2 113.5,831C124.4,833.7 138.9,838.4 152.7,844.4C166.5,850.4 183,858.1 196.1,867C209.3,875.9 221.1,887 231.6,897.8C242.2,908.6 253.6,921 259.5,931.8C265.5,942.6 264,951.8 267.2,962.6C270.5,973.4 277.1,990.9 279.1,996.6"/>
<path d="M368.7,1034.6C353.4,1036.8 360.3,1042.5 359.2,1051.1C358.2,1059.7 358.9,1075.1 362.4,1086.1C365.9,1097 374.9,1107.3 380.1,1116.9C385.3,1126.5 391.4,1133.4 393.6,1143.6C395.9,1153.9 392.9,1167.8 393.6,1178.6C394.4,1189.4 395.2,1200 398.4,1208.4C401.6,1216.8 407.5,1223.9 412.6,1229C417.8,1234.2 422.3,1234.7 429.3,1239.3C436.2,1243.9 446.2,1251.8 454.2,1256.8C462.2,1261.8 468.8,1266 477.3,1269.1C485.8,1272.2 496,1274.1 505.2,1275.3C514.4,1276.5 524.5,1276.3 532.4,1276.3C540.3,1276.3 546.9,1276.5 552.7,1275.3C558.6,1274.1 563,1272.4 567.5,1269.1C572.1,1265.9 576.6,1260.7 580,1255.8C583.4,1250.8 585,1246.3 587.7,1239.3C590.5,1232.3 594.3,1222.5 596.6,1213.6C599,1204.7 601.4,1196.1 602,1185.8C602.6,1175.5 601.4,1161.8 600.2,1151.9C599,1141.9 597.4,1134.4 594.8,1126.2C592.3,1117.9 588.2,1109.2 584.8,1102.5C581.3,1095.8 580,1092.9 574.1,1086.1C568.1,1079.2 560,1068.1 549.1,1061.4C538.3,1054.7 525.1,1049.8 508.8,1045.9C492.5,1042.1 474.6,1040.2 451.2,1038.3C427.9,1036.4 384.1,1032.5 368.7,1034.6Z"/>
<path d="M728.4,1038C727.5,1037.9 726.3,1038.9 723,1037.5C719.8,1036.1 713.6,1031.6 708.8,1029.5C703.9,1027.4 700,1025.1 694,1025.1C687.9,1025.1 679.7,1029 672.6,1029.5C665.5,1030 660.7,1030.5 651.2,1028.3C641.7,1026 628.7,1021.4 615.6,1015.8C602.6,1010.2 586.9,1002.2 572.9,994.5C558.8,986.8 544.8,978.7 531.3,969.4C517.9,960.1 505.2,951.8 492.2,938.7C479.1,925.5 464.9,906.6 453,890.6C441.1,874.7 426.3,850.9 420.9,842.9"/>
</g>
<g id="pelvisGhost" fill="#fffee7" stroke="#8a9b9d" stroke-width="3.4">
<use href="#gHipFill" stroke="none"/>
<g transform="translate(1490,0) scale(-1,1)"><use href="#gHipFill" stroke="none"/></g>
<use href="#ghostHipLines"/>
<g transform="translate(1490,0) scale(-1,1)"><use href="#ghostHipLines"/></g>
<g transform="translate(745,560) scale(1.02) translate(-745,-560)">
<use href="#sacSolid" stroke="none"/><g transform="translate(1490,0) scale(-1,1)"><use href="#sacSolid" stroke="none"/></g>
<path fill="none" d="M476,377.6C483.1,381.2 506,390.9 518.7,399.5C531.4,408.1 544.3,420.6 552,429.5C559.7,438.4 558.3,445.2 565,453C571.7,460.8 582.5,469 592,476C601.5,483 614.3,490.8 622,495C629.7,499.2 635.3,500 638,501"/>
<path fill="none" d="M528.7,713C530.6,715.5 533.9,722.7 540,727.7C546.1,732.7 557.6,736.2 565.6,743C573.6,749.8 580.6,757.5 587.7,768.6C594.8,779.7 600.3,794.9 608,809.6C615.7,824.3 625.3,843.9 633.8,857C642.3,870.1 651.6,880.3 659,888C666.4,895.7 673.4,898 678,903C682.6,908 683.9,913.5 686.7,918C689.5,922.5 692.1,927.2 695,930C697.9,932.8 702.5,934.2 704,935C702.3,935.3 696.7,935.2 694,937C691.3,938.8 688.4,943 688,945.8C687.6,948.6 688.8,951.8 691.6,954C694.4,956.2 700.3,957.6 704.8,959C709.3,960.4 716.4,962 718.7,962.6C717.6,963.4 713.2,965.5 712,967.5C710.8,969.5 710.4,972.1 711.4,974.7C712.4,977.3 715.2,981 718,983C720.8,985 726.3,986.1 728,986.7C727,987.5 722.8,989.8 721.7,991.6C720.7,993.4 720.2,995.6 721.7,997.6C723.2,999.6 729.2,1002.6 730.7,1003.6C730.2,1004.3 728,1005.8 728,1008C728,1010.2 729.2,1014.4 731,1017C732.8,1019.6 736.1,1022.2 738.5,1023.5C740.9,1024.8 744.3,1024.8 745.5,1025"/>
<g transform="translate(1490,0) scale(-1,1)"><path fill="none" d="M476,377.6C483.1,381.2 506,390.9 518.7,399.5C531.4,408.1 544.3,420.6 552,429.5C559.7,438.4 558.3,445.2 565,453C571.7,460.8 582.5,469 592,476C601.5,483 614.3,490.8 622,495C629.7,499.2 635.3,500 638,501"/><path fill="none" d="M528.7,713C530.6,715.5 533.9,722.7 540,727.7C546.1,732.7 557.6,736.2 565.6,743C573.6,749.8 580.6,757.5 587.7,768.6C594.8,779.7 600.3,794.9 608,809.6C615.7,824.3 625.3,843.9 633.8,857C642.3,870.1 651.6,880.3 659,888C666.4,895.7 673.4,898 678,903C682.6,908 683.9,913.5 686.7,918C689.5,922.5 692.1,927.2 695,930C697.9,932.8 702.5,934.2 704,935C702.3,935.3 696.7,935.2 694,937C691.3,938.8 688.4,943 688,945.8C687.6,948.6 688.8,951.8 691.6,954C694.4,956.2 700.3,957.6 704.8,959C709.3,960.4 716.4,962 718.7,962.6C717.6,963.4 713.2,965.5 712,967.5C710.8,969.5 710.4,972.1 711.4,974.7C712.4,977.3 715.2,981 718,983C720.8,985 726.3,986.1 728,986.7C727,987.5 722.8,989.8 721.7,991.6C720.7,993.4 720.2,995.6 721.7,997.6C723.2,999.6 729.2,1002.6 730.7,1003.6C730.2,1004.3 728,1005.8 728,1008C728,1010.2 729.2,1014.4 731,1017C732.8,1019.6 736.1,1022.2 738.5,1023.5C740.9,1024.8 744.3,1024.8 745.5,1025"/></g>
</g>
</g>
<g id="logo">
<path fill="#a67d68" d="M1172.5,392.5C1174,385 1183,380 1196,379.5C1210,380 1220,384 1227.5,384.5L1227.5,392C1216,396 1210,406 1209,418C1195,410 1180,405 1172.5,392.5Z"/>
<path fill="#a67d68" d="M1292.5,392.5C1291,385 1282,380 1269,379.5C1255,380 1245,384 1236.5,384.5L1236.5,392C1248,396 1254,406 1255,418C1269,410 1284,405 1292.5,392.5Z"/>
<circle cx="1232" cy="415.7" r="18.8" fill="url(#ball)"/>
<clipPath id="snakeClip"><path clip-rule="evenodd" d="M1150,430H1320V660H1150Z M1213,526H1254V549H1213Z M1217,588H1246V601H1217Z"/></clipPath>
<path fill="none" stroke="#e4d6cf" stroke-width="14" stroke-linecap="round" d="M1251.4,457.7C1248.9,456.9 1242.7,452.9 1236.6,452.8C1230.5,452.7 1221.3,454.5 1214.9,456.8C1208.5,459.1 1201.5,463.3 1198,466.6C1194.5,469.9 1192.2,472.9 1194,476.5C1195.8,480.1 1201.2,483.8 1209,488C1216.8,492.2 1232.6,498 1240.6,502C1248.6,506 1253.7,509.2 1257,512C1260.3,514.8 1259.9,517.8 1260.5,519"/>
<path fill="none" stroke="#e4d6cf" stroke-width="12" stroke-linecap="round" d="M1260.5,519C1260.1,520.8 1260.7,526.5 1258.3,529.8C1255.9,533.1 1250,537 1246,538.7C1242,540.4 1238,540.2 1234,540C1230,539.8 1226,537.2 1222,537.7C1218,538.2 1212.6,541.1 1210,543C1207.4,544.9 1207.1,548 1206.5,549"/>
<path fill="none" stroke="#e4d6cf" stroke-width="10" stroke-linecap="round" d="M1206.5,549C1206.8,550.4 1205,554.7 1208,557.4C1211,560.1 1218.4,562.4 1224.8,565.3C1231.2,568.2 1242,572 1246.5,575C1251,578 1250.9,581.7 1251.8,583"/>
<path fill="none" stroke="#e4d6cf" stroke-width="8" stroke-linecap="round" d="M1251.8,583C1251.1,584.3 1249.3,589 1247.5,591C1245.7,593 1243.6,594.1 1241,595C1238.4,595.9 1234.8,596.5 1232,596.5C1229.2,596.5 1226.4,594.6 1224.5,595C1222.6,595.4 1221.3,597.7 1220.5,599C1219.7,600.3 1219.9,602.3 1219.8,603"/>
<path fill="none" stroke="#e4d6cf" stroke-width="6" stroke-linecap="round" d="M1219.8,603C1221,604.6 1224.2,609.4 1226.7,612.7C1229.2,616 1234,619.2 1235,622.6C1236,626 1234,630.2 1233,633C1232,635.8 1229.7,638.3 1229,639.4"/>
<path fill="none" stroke="#cdb3a8" stroke-width="9.5" stroke-linecap="round" d="M1251.4,457.7C1248.9,456.9 1242.7,452.9 1236.6,452.8C1230.5,452.7 1221.3,454.5 1214.9,456.8C1208.5,459.1 1201.5,463.3 1198,466.6C1194.5,469.9 1192.2,472.9 1194,476.5C1195.8,480.1 1201.2,483.8 1209,488C1216.8,492.2 1232.6,498 1240.6,502C1248.6,506 1253.7,509.2 1257,512C1260.3,514.8 1259.9,517.8 1260.5,519"/>
<path fill="none" stroke="#cdb3a8" stroke-width="8" stroke-linecap="round" d="M1260.5,519C1260.1,520.8 1260.7,526.5 1258.3,529.8C1255.9,533.1 1250,537 1246,538.7C1242,540.4 1238,540.2 1234,540C1230,539.8 1226,537.2 1222,537.7C1218,538.2 1212.6,541.1 1210,543C1207.4,544.9 1207.1,548 1206.5,549"/>
<path fill="none" stroke="#cdb3a8" stroke-width="6.5" stroke-linecap="round" d="M1206.5,549C1206.8,550.4 1205,554.7 1208,557.4C1211,560.1 1218.4,562.4 1224.8,565.3C1231.2,568.2 1242,572 1246.5,575C1251,578 1250.9,581.7 1251.8,583"/>
<path fill="none" stroke="#cdb3a8" stroke-width="5" stroke-linecap="round" d="M1251.8,583C1251.1,584.3 1249.3,589 1247.5,591C1245.7,593 1243.6,594.1 1241,595C1238.4,595.9 1234.8,596.5 1232,596.5C1229.2,596.5 1226.4,594.6 1224.5,595C1222.6,595.4 1221.3,597.7 1220.5,599C1219.7,600.3 1219.9,602.3 1219.8,603"/>
<path fill="none" stroke="#cdb3a8" stroke-width="3.2" stroke-linecap="round" d="M1219.8,603C1221,604.6 1224.2,609.4 1226.7,612.7C1229.2,616 1234,619.2 1235,622.6C1236,626 1234,630.2 1233,633C1232,635.8 1229.7,638.3 1229,639.4"/>
<path fill="#a67d68" d="M1217,437C1226,443 1238,443 1247.5,437L1238,619L1229.5,619Z"/>
<g clip-path="url(#snakeClip)">
<path fill="none" stroke="#e4d6cf" stroke-width="14" stroke-linecap="round" d="M1251.4,457.7C1248.9,456.9 1242.7,452.9 1236.6,452.8C1230.5,452.7 1221.3,454.5 1214.9,456.8C1208.5,459.1 1201.5,463.3 1198,466.6C1194.5,469.9 1192.2,472.9 1194,476.5C1195.8,480.1 1201.2,483.8 1209,488C1216.8,492.2 1232.6,498 1240.6,502C1248.6,506 1253.7,509.2 1257,512C1260.3,514.8 1259.9,517.8 1260.5,519"/>
<path fill="none" stroke="#e4d6cf" stroke-width="12" stroke-linecap="round" d="M1260.5,519C1260.1,520.8 1260.7,526.5 1258.3,529.8C1255.9,533.1 1250,537 1246,538.7C1242,540.4 1238,540.2 1234,540C1230,539.8 1226,537.2 1222,537.7C1218,538.2 1212.6,541.1 1210,543C1207.4,544.9 1207.1,548 1206.5,549"/>
<path fill="none" stroke="#e4d6cf" stroke-width="10" stroke-linecap="round" d="M1206.5,549C1206.8,550.4 1205,554.7 1208,557.4C1211,560.1 1218.4,562.4 1224.8,565.3C1231.2,568.2 1242,572 1246.5,575C1251,578 1250.9,581.7 1251.8,583"/>
<path fill="none" stroke="#e4d6cf" stroke-width="8" stroke-linecap="round" d="M1251.8,583C1251.1,584.3 1249.3,589 1247.5,591C1245.7,593 1243.6,594.1 1241,595C1238.4,595.9 1234.8,596.5 1232,596.5C1229.2,596.5 1226.4,594.6 1224.5,595C1222.6,595.4 1221.3,597.7 1220.5,599C1219.7,600.3 1219.9,602.3 1219.8,603"/>
<path fill="none" stroke="#e4d6cf" stroke-width="6" stroke-linecap="round" d="M1219.8,603C1221,604.6 1224.2,609.4 1226.7,612.7C1229.2,616 1234,619.2 1235,622.6C1236,626 1234,630.2 1233,633C1232,635.8 1229.7,638.3 1229,639.4"/>
<path fill="none" stroke="#cdb3a8" stroke-width="9.5" stroke-linecap="round" d="M1251.4,457.7C1248.9,456.9 1242.7,452.9 1236.6,452.8C1230.5,452.7 1221.3,454.5 1214.9,456.8C1208.5,459.1 1201.5,463.3 1198,466.6C1194.5,469.9 1192.2,472.9 1194,476.5C1195.8,480.1 1201.2,483.8 1209,488C1216.8,492.2 1232.6,498 1240.6,502C1248.6,506 1253.7,509.2 1257,512C1260.3,514.8 1259.9,517.8 1260.5,519"/>
<path fill="none" stroke="#cdb3a8" stroke-width="8" stroke-linecap="round" d="M1260.5,519C1260.1,520.8 1260.7,526.5 1258.3,529.8C1255.9,533.1 1250,537 1246,538.7C1242,540.4 1238,540.2 1234,540C1230,539.8 1226,537.2 1222,537.7C1218,538.2 1212.6,541.1 1210,543C1207.4,544.9 1207.1,548 1206.5,549"/>
<path fill="none" stroke="#cdb3a8" stroke-width="6.5" stroke-linecap="round" d="M1206.5,549C1206.8,550.4 1205,554.7 1208,557.4C1211,560.1 1218.4,562.4 1224.8,565.3C1231.2,568.2 1242,572 1246.5,575C1251,578 1250.9,581.7 1251.8,583"/>
<path fill="none" stroke="#cdb3a8" stroke-width="5" stroke-linecap="round" d="M1251.8,583C1251.1,584.3 1249.3,589 1247.5,591C1245.7,593 1243.6,594.1 1241,595C1238.4,595.9 1234.8,596.5 1232,596.5C1229.2,596.5 1226.4,594.6 1224.5,595C1222.6,595.4 1221.3,597.7 1220.5,599C1219.7,600.3 1219.9,602.3 1219.8,603"/>
<path fill="none" stroke="#cdb3a8" stroke-width="3.2" stroke-linecap="round" d="M1219.8,603C1221,604.6 1224.2,609.4 1226.7,612.7C1229.2,616 1234,619.2 1235,622.6C1236,626 1234,630.2 1233,633C1232,635.8 1229.7,638.3 1229,639.4"/>
</g>
</g>
<path id="dblArrow" d="M-255.7,0L-104.4,-150.4L-104.4,-91.3L-7.1,-91.3L-7.1,91.9L-104.4,91.9L-104.4,150.6Z M255.7,0L104.4,-150.4L104.4,-91.3L7.8,-91.3L7.8,91.9L104.4,91.9L104.4,150.6Z"/>
<path id="star" d="M590,1343L583,1396L636,1398L584,1408L597.8,1459.8L572,1412L528.4,1440.6L566,1402L524,1369.5L574,1393Z"/>
</defs>
<rect width="3425" height="2161" fill="#fff"/>
<ellipse cx="743" cy="2082" rx="735" ry="78" fill="url(#shadow)"/>
<ellipse cx="2585" cy="2082" rx="740" ry="78" fill="url(#shadow)"/>
<text transform="translate(219.3,112.5) scale(1.1343,1.1780)" font-size="100">zu</text>
<text transform="translate(382.6,112.5) scale(1.1711,1.1780)" font-size="100">schmaler</text>
<text transform="translate(935.4,112.5) scale(1.2429,1.1780)" font-size="100">Sattel</text>
<text transform="translate(1964,112.5) scale(1.1524,1.1780)" font-size="100">optimale</text>
<text transform="translate(2477.8,112.5) scale(1.2029,1.1780)" font-size="100">Sattelbreiten</text>
<g id="figLeft">
<use href="#pelvisMain"/>
<use href="#logo"/>
<path fill="#b70007" d="M559.5,1108.3L594.8,1197.6L650,1176.4L567,1372.5L368.4,1287L423,1266L388,1175.6Z"/>
<path fill="#b70007" d="M930.5,1108.3L895.2,1197.6L840,1176.4L923,1372.5L1121.6,1287L1067,1266L1102,1175.6Z"/>
<g id="railG"><rect x="-16.5" y="-25" width="33" height="110" rx="6.5" fill="url(#rail)" transform="translate(622,1437) rotate(-15.5)"/></g>
<use href="#railG" transform="translate(1490,0) scale(-1,1)"/>
<path d="M525,1470A333,333 0 0 1 965,1470" fill="none" stroke="#263537" stroke-width="57" stroke-linecap="round"/>
<path d="M525,1470A333,333 0 0 1 965,1470" fill="none" stroke="#74878a" stroke-width="49.5" stroke-linecap="round"/>
<use href="#star" fill="#ff0a00"/>
<use href="#star" fill="#ff0a00" transform="translate(1490,0) scale(-1,1)"/>
</g>
<g id="figRight" transform="translate(1839.5,0)">
<path d="M304.3,1411L537.8,1411C559,1412 574.4,1418 597.5,1430C648.8,1452 700.1,1460 745,1460.5C789.9,1460 841.2,1452 892.5,1430C915.6,1418 931,1412 952.2,1411L1185.7,1411C1203,1417 1221,1432 1234.7,1454.4C1240.2,1466 1244.1,1485 1245.4,1512.6C1246,1520 1246,1524 1246,1526C1244.1,1545 1240.2,1560 1235.7,1565C1230,1575 1223.6,1579 1216.5,1580L952.2,1581C940,1580 931,1575 922.1,1565L881,1515.7L745,1511.6L609,1515.7L567.9,1565C559,1575 550,1580 537.8,1581L273.5,1580C266.4,1579 260,1575 254.3,1565C249.8,1560 245.9,1545 244,1526C244,1524 244,1520 244.6,1512.6C245.9,1485 249.8,1466 255.3,1454.4C269,1432 287,1417 304.3,1411Z" fill="#cfd8d9" stroke="#6f8183" stroke-width="3.2" stroke-linejoin="round"/>
<path d="M304.3,1411L537.8,1411C559,1412 574.4,1418 597.5,1430C648.8,1452 700.1,1460 745,1460.5C789.9,1460 841.2,1452 892.5,1430C915.6,1418 931,1412 952.2,1411L1185.7,1411C1203,1417 1221,1432 1234.7,1454.4C1240.2,1466 1244.1,1485 1245.4,1512.6C1246,1520 1246,1528 1246,1534C1072.2,1500 905.4,1486 745,1485C584.6,1486 417.8,1500 244,1534C244,1528 244,1520 244.6,1512.6C245.9,1485 249.8,1466 255.3,1454.4C269,1432 287,1417 304.3,1411Z" fill="#8a9a9c" stroke="#6f8183" stroke-width="3.2" stroke-linejoin="round"/>
<use href="#pelvisGhost"/>
<path d="M401.5,1411L583.5,1411C600,1412 612,1418 630,1430C670,1452 710,1460 745,1460.5C780,1460 820,1452 860,1430C878,1418 890,1412 906.5,1411L1088.5,1411C1102,1417 1116,1432 1126.7,1454.4C1131,1466 1134,1485 1135,1512.6C1135.5,1520 1135.5,1524 1135.5,1526C1134,1545 1131,1560 1127.5,1565C1123,1575 1118,1579 1112.5,1580L906.5,1581C897,1580 890,1575 883,1565L851,1515.7L745,1511.6L639,1515.7L607,1565C600,1575 593,1580 583.5,1581L377.5,1580C372,1579 367,1575 362.5,1565C359,1560 356,1545 354.5,1526C354.5,1524 354.5,1520 355,1512.6C356,1485 359,1466 363.3,1454.4C374,1432 388,1417 401.5,1411Z" fill="#8a9a9c" stroke="#263537" stroke-width="3.7" stroke-linejoin="round"/>
<path d="M401.5,1411L583.5,1411C600,1412 612,1418 630,1430C670,1452 710,1460 745,1460.5C780,1460 820,1452 860,1430C878,1418 890,1412 906.5,1411L1088.5,1411C1102,1417 1116,1432 1126.7,1454.4C1131,1466 1134,1485 1135,1512.6C1135.5,1520 1135.5,1528 1135.5,1534C1000,1500 870,1486 745,1485C620,1486 490,1500 354.5,1534C354.5,1528 354.5,1520 355,1512.6C356,1485 359,1466 363.3,1454.4C374,1432 388,1417 401.5,1411Z" fill="#293637"/>
<use href="#pelvisMain"/>
<use href="#logo" transform="translate(-11,-2)"/>
<use href="#dblArrow" fill="#b70007" transform="translate(477.3,872.7)"/>
<use href="#dblArrow" fill="#b70007" transform="translate(1012.7,872.7)"/>
</g>
<line x1="745.3" y1="245.2" x2="745.3" y2="1738" stroke="#8fa5ac" stroke-width="18.4" stroke-linecap="round" stroke-dasharray="114 37.5 8 37.5"/>
<line x1="2585" y1="245.2" x2="2585" y2="1738" stroke="#8fa5ac" stroke-width="18.4" stroke-linecap="round" stroke-dasharray="114 37.5 8 37.5"/>
</svg></body></html>
